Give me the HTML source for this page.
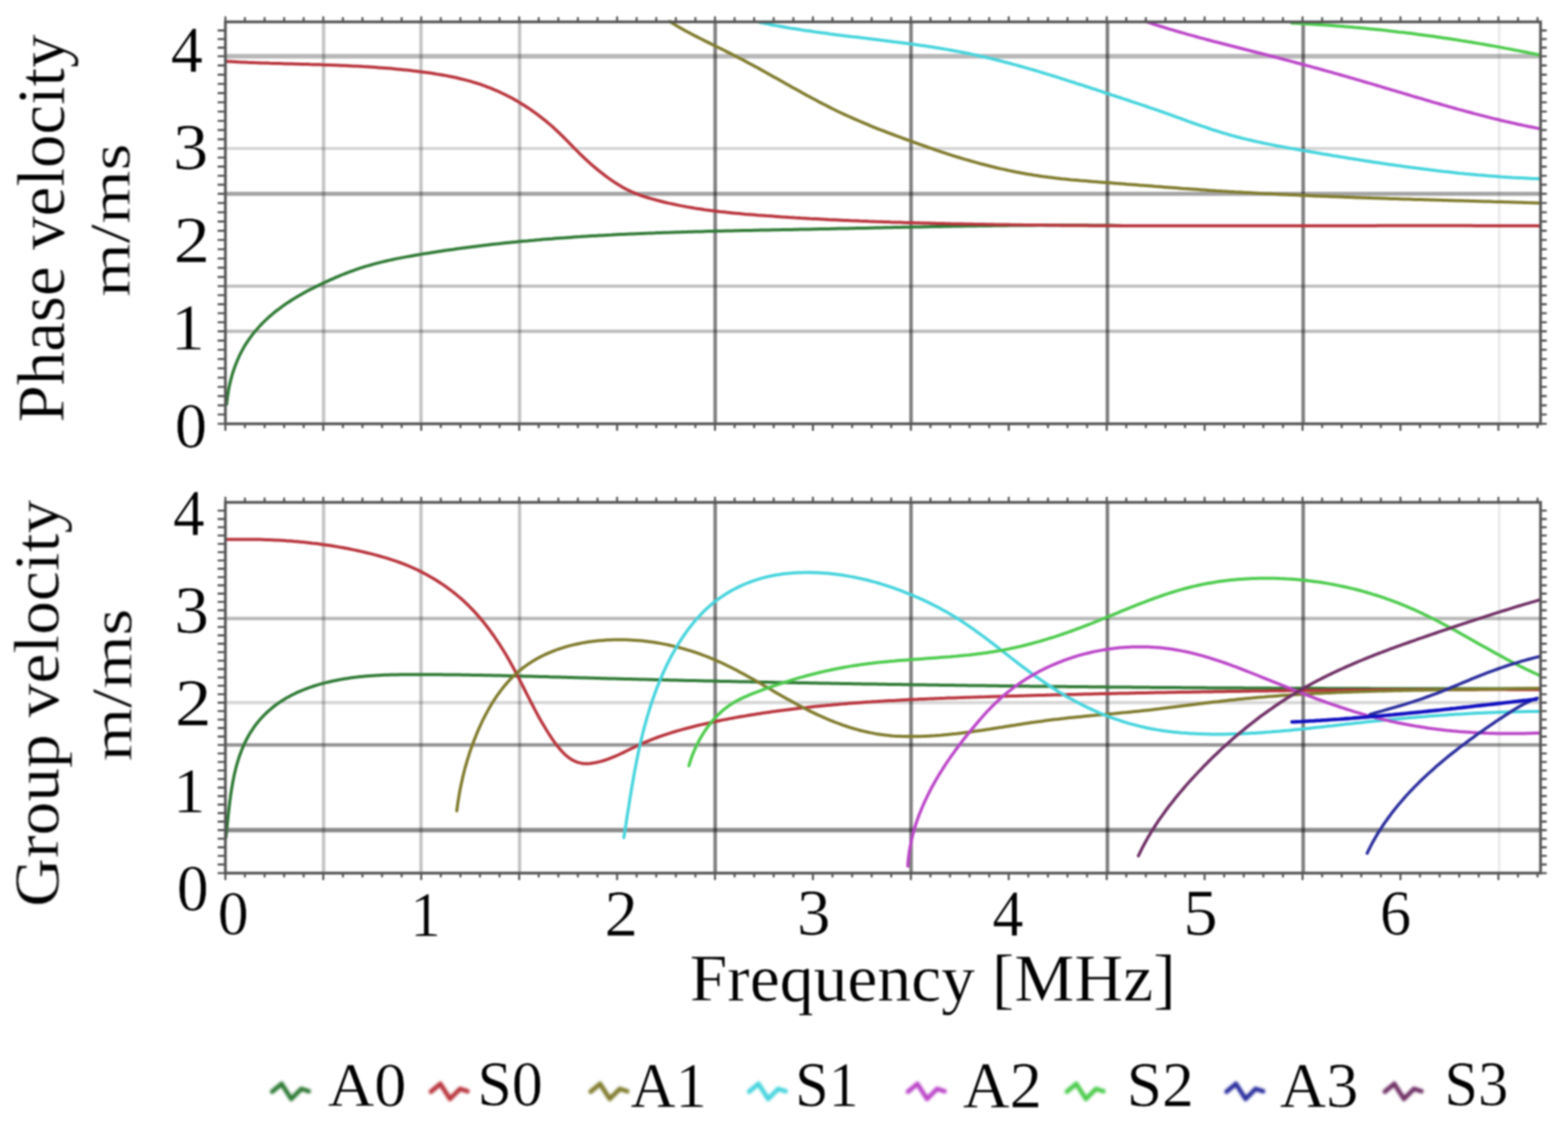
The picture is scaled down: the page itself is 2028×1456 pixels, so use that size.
<!DOCTYPE html>
<html><head><meta charset="utf-8"><title>Dispersion curves</title>
<style>html,body{margin:0;padding:0;background:#fff;}body{width:2028px;height:1456px;overflow:hidden;}svg{display:block;}</style>
</head><body>
<svg width="2028" height="1456" viewBox="0 0 2028 1456">
<defs><filter id="bl" filterUnits="userSpaceOnUse" x="0" y="0" width="2028" height="1456" color-interpolation-filters="sRGB"><feGaussianBlur stdDeviation="1.0"/></filter><filter id="bl2" x="-20%" y="-50%" width="140%" height="200%" color-interpolation-filters="sRGB"><feGaussianBlur stdDeviation="1.6"/></filter></defs>
<rect width="2028" height="1456" fill="#fff"/>
<g filter="url(#bl)">
<line x1="291.5" y1="72.7" x2="1992.5" y2="72.7" stroke="#000" stroke-opacity="0.28" stroke-width="6.0"/>
<line x1="291.5" y1="192.0" x2="1992.5" y2="192.0" stroke="#000" stroke-opacity="0.16" stroke-width="4.0"/>
<line x1="291.5" y1="250.6" x2="1992.5" y2="250.6" stroke="#000" stroke-opacity="0.36" stroke-width="5.2"/>
<line x1="291.5" y1="370.0" x2="1992.5" y2="370.0" stroke="#000" stroke-opacity="0.25" stroke-width="4.2"/>
<line x1="291.5" y1="428.4" x2="1992.5" y2="428.4" stroke="#000" stroke-opacity="0.27" stroke-width="4.2"/>
<line x1="418.5" y1="28.3" x2="418.5" y2="548.0" stroke="#000" stroke-opacity="0.23" stroke-width="4.4"/>
<line x1="544.5" y1="28.3" x2="544.5" y2="548.0" stroke="#000" stroke-opacity="0.23" stroke-width="4.4"/>
<line x1="672.0" y1="28.3" x2="672.0" y2="548.0" stroke="#000" stroke-opacity="0.23" stroke-width="4.4"/>
<line x1="925.0" y1="28.3" x2="925.0" y2="548.0" stroke="#000" stroke-opacity="0.50" stroke-width="4.6"/>
<line x1="1178.3" y1="28.3" x2="1178.3" y2="548.0" stroke="#000" stroke-opacity="0.50" stroke-width="4.6"/>
<line x1="1432.3" y1="28.3" x2="1432.3" y2="548.0" stroke="#000" stroke-opacity="0.50" stroke-width="4.6"/>
<line x1="1685.5" y1="28.3" x2="1685.5" y2="548.0" stroke="#000" stroke-opacity="0.50" stroke-width="4.6"/>
<line x1="1939.0" y1="28.3" x2="1939.0" y2="548.0" stroke="#000" stroke-opacity="0.07" stroke-width="4.0"/>
<g>
<path d="M982.8 29.0 L986.7 29.8 L990.7 30.6 L994.6 31.4 L998.5 32.2 L1002.5 32.9 L1006.4 33.6 L1010.3 34.3 L1014.3 35.0 L1018.2 35.7 L1022.2 36.4 L1026.2 37.0 L1030.1 37.6 L1034.1 38.2 L1038.0 38.9 L1042.0 39.5 L1046.0 40.0 L1050.0 40.6 L1053.9 41.2 L1057.9 41.7 L1061.9 42.3 L1065.9 42.8 L1069.9 43.3 L1073.8 43.9 L1077.8 44.4 L1081.8 44.9 L1085.8 45.4 L1089.8 45.9 L1093.8 46.4 L1097.8 46.9 L1101.8 47.4 L1105.8 47.8 L1109.8 48.3 L1113.8 48.8 L1117.8 49.3 L1121.8 49.8 L1125.8 50.2 L1129.8 50.7 L1133.7 51.2 L1137.7 51.7 L1141.7 52.2 L1145.7 52.7 L1149.7 53.2 L1153.7 53.7 L1157.7 54.2 L1161.7 54.7 L1165.7 55.2 L1169.7 55.7 L1173.7 56.3 L1177.6 56.8 L1181.6 57.3 L1185.6 57.9 L1189.6 58.5 L1193.6 59.0 L1197.5 59.6 L1201.5 60.2 L1205.5 60.8 L1209.5 61.5 L1213.4 62.1 L1217.4 62.7 L1221.3 63.4 L1225.3 64.1 L1229.2 64.8 L1233.2 65.5 L1237.1 66.2 L1241.1 66.9 L1245.0 67.7 L1249.0 68.5 L1252.9 69.3 L1256.8 70.1 L1260.7 70.9 L1264.7 71.8 L1268.6 72.7 L1272.5 73.5 L1276.4 74.5 L1280.3 75.4 L1284.2 76.3 L1288.1 77.3 L1292.0 78.3 L1295.9 79.2 L1299.8 80.3 L1303.6 81.3 L1307.5 82.3 L1311.4 83.4 L1315.3 84.4 L1319.1 85.5 L1323.0 86.6 L1326.9 87.7 L1330.7 88.8 L1334.6 89.9 L1338.4 91.0 L1342.3 92.2 L1346.1 93.3 L1350.0 94.5 L1353.8 95.7 L1357.7 96.8 L1361.5 98.0 L1365.4 99.2 L1369.2 100.4 L1373.0 101.6 L1376.9 102.9 L1380.7 104.1 L1384.5 105.3 L1388.4 106.5 L1392.2 107.8 L1396.0 109.0 L1399.8 110.2 L1403.7 111.5 L1407.5 112.7 L1411.3 114.0 L1415.1 115.2 L1419.0 116.5 L1422.8 117.7 L1426.6 119.0 L1430.4 120.3 L1434.2 121.5 L1438.0 122.8 L1441.9 124.0 L1445.7 125.3 L1449.5 126.5 L1453.3 127.8 L1457.1 129.0 L1460.9 130.3 L1464.7 131.6 L1468.5 132.8 L1472.3 134.1 L1476.1 135.4 L1479.9 136.7 L1483.7 138.0 L1487.5 139.3 L1491.3 140.6 L1495.1 141.9 L1498.9 143.2 L1502.7 144.5 L1506.5 145.9 L1510.3 147.2 L1514.1 148.6 L1517.8 149.9 L1521.6 151.3 L1525.4 152.7 L1529.2 154.0 L1532.9 155.4 L1536.7 156.8 L1540.5 158.1 L1544.3 159.5 L1548.1 160.8 L1551.9 162.1 L1555.7 163.4 L1559.5 164.7 L1563.3 166.0 L1567.1 167.3 L1570.9 168.5 L1574.7 169.7 L1578.5 170.9 L1582.4 172.1 L1586.2 173.2 L1590.1 174.3 L1593.9 175.4 L1597.8 176.5 L1601.7 177.5 L1605.5 178.5 L1609.4 179.4 L1613.3 180.4 L1617.2 181.3 L1621.1 182.2 L1625.1 183.1 L1629.0 183.9 L1632.9 184.8 L1636.8 185.6 L1640.8 186.4 L1644.7 187.1 L1648.7 187.9 L1652.6 188.7 L1656.6 189.4 L1660.5 190.1 L1664.5 190.9 L1668.4 191.6 L1672.4 192.3 L1676.3 193.0 L1680.3 193.7 L1684.3 194.4 L1688.2 195.1 L1692.2 195.8 L1696.2 196.5 L1700.1 197.1 L1704.1 197.8 L1708.0 198.5 L1712.0 199.2 L1716.0 199.8 L1719.9 200.5 L1723.9 201.2 L1727.9 201.8 L1731.8 202.5 L1735.8 203.1 L1739.8 203.8 L1743.7 204.4 L1747.7 205.1 L1751.7 205.7 L1755.7 206.3 L1759.6 207.0 L1763.6 207.6 L1767.6 208.2 L1771.5 208.8 L1775.5 209.4 L1779.5 210.0 L1783.5 210.6 L1787.4 211.2 L1791.4 211.8 L1795.4 212.4 L1799.4 213.0 L1803.3 213.5 L1807.3 214.1 L1811.3 214.6 L1815.3 215.2 L1819.2 215.7 L1823.2 216.3 L1827.2 216.8 L1831.2 217.3 L1835.2 217.8 L1839.2 218.3 L1843.1 218.8 L1847.1 219.3 L1851.1 219.8 L1855.1 220.3 L1859.1 220.8 L1863.1 221.2 L1867.1 221.7 L1871.0 222.1 L1875.0 222.6 L1879.0 223.0 L1883.0 223.4 L1887.0 223.9 L1891.0 224.3 L1895.0 224.7 L1899.0 225.0 L1903.0 225.4 L1907.0 225.8 L1911.0 226.2 L1915.0 226.5 L1919.0 226.8 L1923.0 227.2 L1927.0 227.5 L1931.0 227.8 L1935.0 228.1 L1939.0 228.4 L1943.0 228.7 L1947.0 228.9 L1951.0 229.2 L1955.1 229.5 L1959.1 229.7 L1963.1 229.9 L1967.1 230.1 L1971.1 230.3 L1975.1 230.5 L1979.1 230.7 L1983.2 230.9 L1987.2 231.0 L1991.2 231.2" stroke="#45d4dc" stroke-width="4.0" fill="none" stroke-linecap="round" stroke-linejoin="round"/>
<path d="M866.0 27.7 L869.4 29.8 L872.8 31.9 L876.3 34.0 L879.8 36.0 L883.3 38.0 L886.8 39.9 L890.3 41.8 L893.9 43.7 L897.4 45.6 L901.0 47.4 L904.6 49.2 L908.2 51.1 L911.8 52.9 L915.4 54.6 L919.0 56.4 L922.6 58.2 L926.2 60.0 L929.8 61.7 L933.4 63.5 L937.0 65.3 L940.5 67.1 L944.1 68.9 L947.7 70.7 L951.3 72.5 L954.9 74.4 L958.4 76.2 L962.0 78.1 L965.5 80.0 L969.1 81.9 L972.6 83.8 L976.2 85.7 L979.7 87.6 L983.2 89.6 L986.7 91.5 L990.2 93.5 L993.8 95.4 L997.3 97.4 L1000.8 99.4 L1004.3 101.3 L1007.8 103.3 L1011.3 105.3 L1014.8 107.3 L1018.3 109.2 L1021.8 111.2 L1025.3 113.2 L1028.8 115.1 L1032.4 117.1 L1035.9 119.0 L1039.4 121.0 L1042.9 122.9 L1046.4 124.8 L1050.0 126.7 L1053.5 128.6 L1057.1 130.5 L1060.6 132.4 L1064.2 134.2 L1067.8 136.1 L1071.3 137.9 L1074.9 139.7 L1078.5 141.5 L1082.1 143.2 L1085.7 145.0 L1089.4 146.7 L1093.0 148.4 L1096.6 150.0 L1100.3 151.7 L1104.0 153.3 L1107.6 154.9 L1111.3 156.5 L1115.0 158.1 L1118.7 159.7 L1122.4 161.2 L1126.1 162.8 L1129.8 164.3 L1133.6 165.8 L1137.3 167.3 L1141.0 168.7 L1144.8 170.2 L1148.5 171.6 L1152.3 173.0 L1156.1 174.4 L1159.8 175.8 L1163.6 177.2 L1167.4 178.6 L1171.2 180.0 L1174.9 181.4 L1178.7 182.7 L1182.5 184.1 L1186.3 185.5 L1190.1 186.8 L1193.9 188.2 L1197.7 189.5 L1201.5 190.8 L1205.3 192.2 L1209.1 193.5 L1212.9 194.8 L1216.7 196.1 L1220.5 197.3 L1224.3 198.6 L1228.2 199.8 L1232.0 201.1 L1235.8 202.3 L1239.7 203.5 L1243.5 204.6 L1247.3 205.8 L1251.2 206.9 L1255.1 208.0 L1258.9 209.1 L1262.8 210.2 L1266.7 211.3 L1270.5 212.3 L1274.4 213.3 L1278.3 214.3 L1282.2 215.3 L1286.1 216.2 L1290.0 217.2 L1293.9 218.1 L1297.8 218.9 L1301.7 219.8 L1305.6 220.6 L1309.6 221.5 L1313.5 222.3 L1317.4 223.0 L1321.4 223.8 L1325.3 224.5 L1329.3 225.2 L1333.2 225.8 L1337.2 226.5 L1341.2 227.1 L1345.1 227.7 L1349.1 228.3 L1353.1 228.8 L1357.1 229.3 L1361.1 229.8 L1365.1 230.3 L1369.1 230.7 L1373.1 231.2 L1377.1 231.6 L1381.1 232.0 L1385.1 232.4 L1389.1 232.7 L1393.1 233.1 L1397.1 233.5 L1401.1 233.8 L1405.1 234.1 L1409.2 234.4 L1413.2 234.8 L1417.2 235.1 L1421.2 235.4 L1425.2 235.7 L1429.3 236.0 L1433.3 236.3 L1437.3 236.6 L1441.3 236.9 L1445.3 237.2 L1449.3 237.5 L1453.3 237.8 L1457.3 238.2 L1461.4 238.5 L1465.4 238.8 L1469.4 239.1 L1473.4 239.4 L1477.4 239.7 L1481.4 240.0 L1485.4 240.3 L1489.4 240.6 L1493.4 241.0 L1497.4 241.3 L1501.4 241.6 L1505.4 241.9 L1509.4 242.2 L1513.5 242.5 L1517.5 242.8 L1521.5 243.1 L1525.5 243.4 L1529.5 243.7 L1533.5 243.9 L1537.5 244.2 L1541.5 244.5 L1545.5 244.8 L1549.5 245.1 L1553.5 245.4 L1557.5 245.6 L1561.5 245.9 L1565.5 246.2 L1569.5 246.4 L1573.5 246.7 L1577.5 246.9 L1581.6 247.2 L1585.6 247.4 L1589.6 247.7 L1593.6 247.9 L1597.6 248.2 L1601.6 248.4 L1605.6 248.6 L1609.6 248.9 L1613.6 249.1 L1617.6 249.3 L1621.7 249.5 L1625.7 249.7 L1629.7 250.0 L1633.7 250.2 L1637.7 250.4 L1641.7 250.6 L1645.7 250.8 L1649.7 251.0 L1653.8 251.2 L1657.8 251.4 L1661.8 251.6 L1665.8 251.8 L1669.8 251.9 L1673.8 252.1 L1677.8 252.3 L1681.9 252.5 L1685.9 252.7 L1689.9 252.8 L1693.9 253.0 L1697.9 253.2 L1701.9 253.4 L1706.0 253.5 L1710.0 253.7 L1714.0 253.8 L1718.0 254.0 L1722.0 254.2 L1726.0 254.3 L1730.1 254.5 L1734.1 254.6 L1738.1 254.8 L1742.1 254.9 L1746.1 255.1 L1750.2 255.2 L1754.2 255.4 L1758.2 255.5 L1762.2 255.7 L1766.2 255.8 L1770.2 255.9 L1774.3 256.1 L1778.3 256.2 L1782.3 256.3 L1786.3 256.5 L1790.3 256.6 L1794.4 256.7 L1798.4 256.9 L1802.4 257.0 L1806.4 257.1 L1810.4 257.2 L1814.5 257.4 L1818.5 257.5 L1822.5 257.6 L1826.5 257.7 L1830.5 257.9 L1834.5 258.0 L1838.6 258.1 L1842.6 258.2 L1846.6 258.3 L1850.6 258.5 L1854.6 258.6 L1858.7 258.7 L1862.7 258.8 L1866.7 258.9 L1870.7 259.0 L1874.7 259.2 L1878.8 259.3 L1882.8 259.4 L1886.8 259.5 L1890.8 259.6 L1894.8 259.7 L1898.8 259.8 L1902.9 260.0 L1906.9 260.1 L1910.9 260.2 L1914.9 260.3 L1918.9 260.4 L1922.9 260.5 L1927.0 260.6 L1931.0 260.8 L1935.0 260.9 L1939.0 261.0 L1943.0 261.1 L1947.0 261.2 L1951.1 261.3 L1955.1 261.5 L1959.1 261.6 L1963.1 261.7 L1967.1 261.8 L1971.1 261.9 L1975.1 262.1 L1979.2 262.2 L1983.2 262.3 L1987.2 262.4 L1991.2 262.5" stroke="#7f7b2c" stroke-width="4.0" fill="none" stroke-linecap="round" stroke-linejoin="round"/>
<path d="M1481.7 27.9 L1485.6 29.1 L1489.4 30.4 L1493.2 31.6 L1497.1 32.8 L1500.9 34.0 L1504.8 35.2 L1508.6 36.4 L1512.5 37.6 L1516.4 38.7 L1520.2 39.8 L1524.1 41.0 L1528.0 42.1 L1531.9 43.2 L1535.7 44.3 L1539.6 45.4 L1543.5 46.4 L1547.4 47.5 L1551.3 48.6 L1555.2 49.6 L1559.1 50.7 L1563.0 51.7 L1566.8 52.7 L1570.7 53.8 L1574.6 54.8 L1578.5 55.8 L1582.4 56.8 L1586.3 57.8 L1590.3 58.8 L1594.2 59.8 L1598.1 60.8 L1602.0 61.8 L1605.9 62.8 L1609.8 63.8 L1613.7 64.8 L1617.6 65.8 L1621.5 66.8 L1625.4 67.8 L1629.3 68.8 L1633.2 69.8 L1637.1 70.8 L1641.0 71.8 L1644.9 72.8 L1648.8 73.8 L1652.7 74.8 L1656.6 75.8 L1660.5 76.8 L1664.4 77.9 L1668.3 78.9 L1672.2 79.9 L1676.1 81.0 L1680.0 82.0 L1683.9 83.0 L1687.8 84.1 L1691.7 85.1 L1695.6 86.2 L1699.5 87.3 L1703.3 88.3 L1707.2 89.4 L1711.1 90.5 L1715.0 91.6 L1718.9 92.6 L1722.8 93.7 L1726.6 94.8 L1730.5 95.9 L1734.4 97.0 L1738.3 98.1 L1742.2 99.2 L1746.0 100.3 L1749.9 101.4 L1753.8 102.6 L1757.6 103.7 L1761.5 104.8 L1765.4 106.0 L1769.3 107.1 L1773.1 108.2 L1777.0 109.4 L1780.9 110.5 L1784.7 111.7 L1788.6 112.8 L1792.4 114.0 L1796.3 115.1 L1800.2 116.3 L1804.0 117.4 L1807.9 118.6 L1811.8 119.7 L1815.6 120.9 L1819.5 122.0 L1823.4 123.2 L1827.2 124.3 L1831.1 125.5 L1835.0 126.6 L1838.8 127.7 L1842.7 128.9 L1846.6 130.0 L1850.4 131.1 L1854.3 132.3 L1858.2 133.4 L1862.1 134.5 L1865.9 135.6 L1869.8 136.7 L1873.7 137.8 L1877.6 138.9 L1881.4 140.0 L1885.3 141.1 L1889.2 142.1 L1893.1 143.2 L1897.0 144.3 L1900.9 145.3 L1904.8 146.3 L1908.7 147.4 L1912.6 148.4 L1916.5 149.4 L1920.4 150.4 L1924.3 151.4 L1928.2 152.4 L1932.1 153.4 L1936.0 154.3 L1939.9 155.3 L1943.9 156.2 L1947.8 157.1 L1951.7 158.0 L1955.7 158.9 L1959.6 159.8 L1963.5 160.7 L1967.5 161.5 L1971.4 162.4 L1975.4 163.2 L1979.3 164.0 L1983.3 164.8 L1987.2 165.6 L1991.2 166.4" stroke="#bb45c8" stroke-width="4.0" fill="none" stroke-linecap="round" stroke-linejoin="round"/>
<path d="M1670.9 29.9 L1675.0 30.1 L1679.1 30.3 L1683.2 30.5 L1687.2 30.7 L1691.3 31.0 L1695.4 31.2 L1699.5 31.5 L1703.6 31.7 L1707.7 32.0 L1711.8 32.3 L1715.8 32.5 L1719.9 32.8 L1724.0 33.1 L1728.1 33.4 L1732.2 33.8 L1736.2 34.1 L1740.3 34.4 L1744.4 34.8 L1748.5 35.1 L1752.6 35.5 L1756.6 35.8 L1760.7 36.2 L1764.8 36.6 L1768.9 37.0 L1772.9 37.4 L1777.0 37.8 L1781.1 38.2 L1785.1 38.6 L1789.2 39.1 L1793.3 39.5 L1797.3 40.0 L1801.4 40.4 L1805.5 40.9 L1809.5 41.4 L1813.6 41.8 L1817.6 42.3 L1821.7 42.8 L1825.8 43.3 L1829.8 43.8 L1833.9 44.4 L1837.9 44.9 L1842.0 45.4 L1846.0 46.0 L1850.1 46.5 L1854.2 47.1 L1858.2 47.7 L1862.3 48.3 L1866.3 48.9 L1870.3 49.5 L1874.4 50.1 L1878.4 50.7 L1882.5 51.3 L1886.5 51.9 L1890.6 52.6 L1894.6 53.2 L1898.6 53.9 L1902.7 54.5 L1906.7 55.2 L1910.8 55.9 L1914.8 56.6 L1918.8 57.3 L1922.9 58.0 L1926.9 58.7 L1930.9 59.4 L1934.9 60.1 L1939.0 60.9 L1943.0 61.6 L1947.0 62.4 L1951.0 63.1 L1955.1 63.9 L1959.1 64.7 L1963.1 65.4 L1967.1 66.2 L1971.1 67.0 L1975.1 67.8 L1979.2 68.7 L1983.2 69.5 L1987.2 70.3 L1991.2 71.2" stroke="#4ccb4c" stroke-width="4.0" fill="none" stroke-linecap="round" stroke-linejoin="round"/>
<path d="M293.1 522.9 L293.5 518.8 L294.0 514.8 L294.6 510.8 L295.2 506.7 L295.9 502.7 L296.7 498.7 L297.6 494.7 L298.6 490.8 L299.7 486.8 L300.8 482.9 L302.0 479.1 L303.4 475.2 L304.8 471.4 L306.3 467.7 L307.9 464.0 L309.5 460.3 L311.3 456.7 L313.2 453.1 L315.1 449.6 L317.1 446.2 L319.3 442.8 L321.5 439.5 L323.8 436.3 L326.2 433.1 L328.6 430.0 L331.2 427.0 L333.8 424.0 L336.5 421.0 L339.3 418.2 L342.1 415.4 L345.0 412.6 L347.9 409.9 L351.0 407.3 L354.0 404.7 L357.2 402.2 L360.3 399.8 L363.6 397.4 L366.8 395.0 L370.2 392.7 L373.5 390.5 L376.9 388.3 L380.3 386.1 L383.8 384.0 L387.3 382.0 L390.8 380.0 L394.4 378.0 L397.9 376.1 L401.5 374.2 L405.2 372.4 L408.8 370.6 L412.4 368.8 L416.1 367.0 L419.8 365.3 L423.4 363.6 L427.1 361.9 L430.8 360.3 L434.5 358.7 L438.2 357.1 L442.0 355.5 L445.7 354.0 L449.5 352.6 L453.2 351.2 L457.0 349.8 L460.8 348.4 L464.6 347.1 L468.4 345.9 L472.2 344.7 L476.1 343.6 L479.9 342.5 L483.8 341.4 L487.7 340.4 L491.6 339.4 L495.5 338.4 L499.4 337.5 L503.3 336.6 L507.2 335.8 L511.1 334.9 L515.1 334.1 L519.0 333.4 L523.0 332.6 L526.9 331.9 L530.9 331.2 L534.9 330.5 L538.8 329.8 L542.8 329.1 L546.8 328.4 L550.7 327.8 L554.7 327.2 L558.7 326.5 L562.7 325.9 L566.6 325.3 L570.6 324.7 L574.6 324.1 L578.6 323.5 L582.5 322.9 L586.5 322.4 L590.5 321.8 L594.5 321.3 L598.5 320.7 L602.5 320.2 L606.4 319.7 L610.4 319.2 L614.4 318.7 L618.4 318.2 L622.4 317.7 L626.4 317.2 L630.4 316.8 L634.4 316.3 L638.3 315.8 L642.3 315.4 L646.3 315.0 L650.3 314.5 L654.3 314.1 L658.3 313.7 L662.3 313.3 L666.3 312.9 L670.3 312.5 L674.3 312.1 L678.3 311.7 L682.3 311.4 L686.3 311.0 L690.3 310.7 L694.3 310.3 L698.3 310.0 L702.3 309.6 L706.3 309.3 L710.3 309.0 L714.3 308.7 L718.3 308.3 L722.4 308.0 L726.4 307.7 L730.4 307.5 L734.4 307.2 L738.4 306.9 L742.4 306.6 L746.4 306.3 L750.4 306.1 L754.4 305.8 L758.4 305.6 L762.5 305.3 L766.5 305.1 L770.5 304.9 L774.5 304.6 L778.5 304.4 L782.5 304.2 L786.5 304.0 L790.6 303.8 L794.6 303.5 L798.6 303.3 L802.6 303.1 L806.6 303.0 L810.6 302.8 L814.7 302.6 L818.7 302.4 L822.7 302.2 L826.7 302.1 L830.7 301.9 L834.8 301.7 L838.8 301.6 L842.8 301.4 L846.8 301.3 L850.8 301.1 L854.9 301.0 L858.9 300.8 L862.9 300.7 L866.9 300.6 L871.0 300.4 L875.0 300.3 L879.0 300.2 L883.0 300.0 L887.0 299.9 L891.1 299.8 L895.1 299.7 L899.1 299.6 L903.1 299.5 L907.2 299.4 L911.2 299.2 L915.2 299.1 L919.2 299.0 L923.3 298.9 L927.3 298.8 L931.3 298.7 L935.3 298.7 L939.4 298.6 L943.4 298.5 L947.4 298.4 L951.4 298.3 L955.5 298.2 L959.5 298.1 L963.5 298.0 L967.5 298.0 L971.6 297.9 L975.6 297.8 L979.6 297.7 L983.6 297.6 L987.7 297.5 L991.7 297.5 L995.7 297.4 L999.7 297.3 L1003.8 297.2 L1007.8 297.2 L1011.8 297.1 L1015.8 297.0 L1019.9 296.9 L1023.9 296.9 L1027.9 296.8 L1031.9 296.7 L1035.9 296.6 L1040.0 296.5 L1044.0 296.5 L1048.0 296.4 L1052.0 296.3 L1056.0 296.2 L1060.1 296.1 L1064.1 296.1 L1068.1 296.0 L1072.1 295.9 L1076.2 295.8 L1080.2 295.7 L1084.2 295.6 L1088.2 295.5 L1092.2 295.5 L1096.2 295.4 L1100.3 295.3 L1104.3 295.2 L1108.3 295.1 L1112.3 295.0 L1116.3 294.9 L1120.4 294.9 L1124.4 294.8 L1128.4 294.7 L1132.4 294.6 L1136.4 294.5 L1140.4 294.4 L1144.5 294.3 L1148.5 294.3 L1152.5 294.2 L1156.5 294.1 L1160.5 294.0 L1164.5 293.9 L1168.6 293.8 L1172.6 293.8 L1176.6 293.7 L1180.6 293.6 L1184.6 293.5 L1188.6 293.4 L1192.7 293.4 L1196.7 293.3 L1200.7 293.2 L1204.7 293.1 L1208.7 293.0 L1212.7 293.0 L1216.8 292.9 L1220.8 292.8 L1224.8 292.8 L1228.8 292.7 L1232.8 292.6 L1236.8 292.5 L1240.9 292.5 L1244.9 292.4 L1248.9 292.3 L1252.9 292.3 L1256.9 292.2 L1261.0 292.2 L1265.0 292.1 L1269.0 292.1 L1273.0 292.0 L1277.0 291.9 L1281.0 291.9 L1285.1 291.8 L1289.1 291.8 L1293.1 291.7 L1297.1 291.7 L1301.1 291.7 L1305.2 291.6 L1309.2 291.6 L1313.2 291.5 L1317.2 291.5 L1321.2 291.5 L1325.2 291.4 L1329.3 291.4 L1333.3 291.4 L1337.3 291.4 L1341.3 291.3 L1345.4 291.3 L1349.4 291.3 L1353.4 291.3 L1357.4 291.3 L1361.4 291.3 L1365.5 291.3 L1369.5 291.3 L1373.5 291.3 L1377.5 291.3 L1381.6 291.3 L1385.6 291.3 L1389.6 291.3 L1393.6 291.3 L1397.7 291.3 L1401.7 291.3 L1405.7 291.3 L1409.7 291.4 L1413.8 291.4 L1417.8 291.4 L1421.8 291.5 L1425.8 291.5 L1429.9 291.5 L1433.9 291.6 L1437.9 291.6 L1442.0 291.7 L1446.0 291.7 L1450.0 291.8" stroke="#2f7a35" stroke-width="4.0" fill="none" stroke-linecap="round" stroke-linejoin="round"/>
<path d="M293.0 79.4 L297.0 79.6 L301.0 79.8 L305.0 80.0 L309.0 80.2 L313.0 80.4 L317.0 80.6 L321.0 80.8 L325.0 80.9 L329.0 81.1 L333.1 81.2 L337.1 81.4 L341.1 81.5 L345.1 81.6 L349.1 81.8 L353.1 81.9 L357.1 82.0 L361.1 82.1 L365.2 82.2 L369.2 82.4 L373.2 82.5 L377.2 82.6 L381.2 82.7 L385.2 82.8 L389.3 82.9 L393.3 83.0 L397.3 83.1 L401.3 83.3 L405.3 83.4 L409.4 83.5 L413.4 83.6 L417.4 83.8 L421.4 83.9 L425.4 84.0 L429.4 84.2 L433.5 84.3 L437.5 84.5 L441.5 84.7 L445.5 84.8 L449.5 85.0 L453.5 85.2 L457.6 85.4 L461.6 85.6 L465.6 85.8 L469.6 86.1 L473.6 86.3 L477.6 86.5 L481.6 86.8 L485.6 87.1 L489.6 87.4 L493.7 87.7 L497.7 88.0 L501.7 88.3 L505.7 88.6 L509.7 89.0 L513.7 89.4 L517.7 89.8 L521.7 90.2 L525.7 90.6 L529.7 91.0 L533.7 91.5 L537.6 91.9 L541.6 92.4 L545.6 93.0 L549.6 93.5 L553.6 94.0 L557.6 94.6 L561.5 95.2 L565.5 95.9 L569.5 96.5 L573.4 97.2 L577.4 97.9 L581.3 98.7 L585.3 99.5 L589.2 100.3 L593.1 101.2 L597.0 102.2 L600.9 103.1 L604.7 104.1 L608.6 105.2 L612.4 106.3 L616.3 107.5 L620.1 108.7 L623.9 110.0 L627.6 111.4 L631.4 112.8 L635.1 114.2 L638.8 115.8 L642.5 117.3 L646.2 119.0 L649.8 120.7 L653.4 122.4 L657.0 124.3 L660.6 126.1 L664.1 128.1 L667.6 130.0 L671.1 132.1 L674.6 134.2 L678.0 136.3 L681.4 138.5 L684.7 140.7 L688.1 143.0 L691.4 145.3 L694.6 147.7 L697.8 150.1 L701.0 152.6 L704.2 155.1 L707.3 157.6 L710.4 160.2 L713.4 162.8 L716.4 165.5 L719.3 168.2 L722.3 171.0 L725.1 173.7 L728.0 176.5 L730.8 179.4 L733.6 182.2 L736.4 185.1 L739.2 187.9 L742.0 190.8 L744.8 193.6 L747.6 196.4 L750.4 199.3 L753.3 202.0 L756.2 204.8 L759.2 207.5 L762.1 210.2 L765.2 212.9 L768.2 215.5 L771.3 218.1 L774.4 220.6 L777.6 223.2 L780.8 225.6 L784.0 228.1 L787.3 230.5 L790.6 232.8 L793.9 235.1 L797.3 237.3 L800.7 239.4 L804.2 241.5 L807.7 243.4 L811.3 245.3 L814.9 247.0 L818.5 248.7 L822.2 250.2 L825.9 251.7 L829.7 253.0 L833.5 254.3 L837.3 255.5 L841.1 256.6 L845.0 257.7 L848.8 258.7 L852.7 259.7 L856.5 260.7 L860.4 261.7 L864.3 262.6 L868.2 263.4 L872.1 264.3 L876.0 265.1 L879.9 265.9 L883.9 266.6 L887.8 267.4 L891.7 268.1 L895.7 268.7 L899.6 269.4 L903.6 270.0 L907.6 270.6 L911.5 271.2 L915.5 271.7 L919.5 272.2 L923.5 272.7 L927.5 273.2 L931.4 273.7 L935.4 274.1 L939.4 274.6 L943.4 275.0 L947.4 275.4 L951.4 275.8 L955.5 276.1 L959.5 276.5 L963.5 276.9 L967.5 277.2 L971.5 277.5 L975.5 277.8 L979.5 278.2 L983.6 278.5 L987.6 278.8 L991.6 279.1 L995.6 279.3 L999.6 279.6 L1003.6 279.9 L1007.7 280.2 L1011.7 280.5 L1015.7 280.7 L1019.7 281.0 L1023.7 281.2 L1027.7 281.5 L1031.7 281.7 L1035.8 282.0 L1039.8 282.2 L1043.8 282.4 L1047.8 282.7 L1051.8 282.9 L1055.8 283.1 L1059.8 283.3 L1063.9 283.5 L1067.9 283.7 L1071.9 284.0 L1075.9 284.2 L1079.9 284.3 L1083.9 284.5 L1087.9 284.7 L1091.9 284.9 L1096.0 285.1 L1100.0 285.3 L1104.0 285.4 L1108.0 285.6 L1112.0 285.8 L1116.0 285.9 L1120.0 286.1 L1124.0 286.3 L1128.0 286.4 L1132.1 286.6 L1136.1 286.7 L1140.1 286.8 L1144.1 287.0 L1148.1 287.1 L1152.1 287.3 L1156.1 287.4 L1160.1 287.5 L1164.1 287.6 L1168.2 287.8 L1172.2 287.9 L1176.2 288.0 L1180.2 288.1 L1184.2 288.2 L1188.2 288.3 L1192.2 288.4 L1196.2 288.5 L1200.2 288.6 L1204.3 288.7 L1208.3 288.8 L1212.3 288.9 L1216.3 289.0 L1220.3 289.1 L1224.3 289.2 L1228.3 289.3 L1232.3 289.4 L1236.3 289.5 L1240.4 289.5 L1244.4 289.6 L1248.4 289.7 L1252.4 289.8 L1256.4 289.8 L1260.4 289.9 L1264.4 290.0 L1268.4 290.0 L1272.4 290.1 L1276.5 290.2 L1280.5 290.2 L1284.5 290.3 L1288.5 290.4 L1292.5 290.4 L1296.5 290.5 L1300.5 290.5 L1304.5 290.6 L1308.6 290.7 L1312.6 290.7 L1316.6 290.8 L1320.6 290.8 L1324.6 290.9 L1328.6 290.9 L1332.6 291.0 L1336.6 291.0 L1340.7 291.0 L1344.7 291.1 L1348.7 291.1 L1352.7 291.2 L1356.7 291.2 L1360.7 291.3 L1364.7 291.3 L1368.8 291.3 L1372.8 291.4 L1376.8 291.4 L1380.8 291.4 L1384.8 291.5 L1388.8 291.5 L1392.8 291.5 L1396.9 291.6 L1400.9 291.6 L1404.9 291.6 L1408.9 291.7 L1412.9 291.7 L1416.9 291.7 L1420.9 291.7 L1425.0 291.8 L1429.0 291.8 L1433.0 291.8 L1437.0 291.8 L1441.0 291.8 L1445.0 291.9 L1449.1 291.9 L1453.1 291.9 L1457.1 291.9 L1461.1 291.9 L1465.1 291.9 L1469.1 292.0 L1473.1 292.0 L1477.2 292.0 L1481.2 292.0 L1485.2 292.0 L1489.2 292.0 L1493.2 292.0 L1497.2 292.1 L1501.3 292.1 L1505.3 292.1 L1509.3 292.1 L1513.3 292.1 L1517.3 292.1 L1521.3 292.1 L1525.4 292.1 L1529.4 292.1 L1533.4 292.1 L1537.4 292.1 L1541.4 292.1 L1545.4 292.1 L1549.5 292.1 L1553.5 292.1 L1557.5 292.1 L1561.5 292.1 L1565.5 292.1 L1569.5 292.1 L1573.6 292.1 L1577.6 292.1 L1581.6 292.1 L1585.6 292.1 L1589.6 292.1 L1593.6 292.1 L1597.7 292.1 L1601.7 292.1 L1605.7 292.1 L1609.7 292.1 L1613.7 292.1 L1617.7 292.1 L1621.8 292.1 L1625.8 292.1 L1629.8 292.1 L1633.8 292.1 L1637.8 292.1 L1641.8 292.1 L1645.9 292.1 L1649.9 292.1 L1653.9 292.1 L1657.9 292.1 L1661.9 292.1 L1665.9 292.0 L1670.0 292.0 L1674.0 292.0 L1678.0 292.0 L1682.0 292.0 L1686.0 292.0 L1690.0 292.0 L1694.1 292.0 L1698.1 292.0 L1702.1 292.0 L1706.1 292.0 L1710.1 292.0 L1714.2 292.0 L1718.2 292.0 L1722.2 291.9 L1726.2 291.9 L1730.2 291.9 L1734.2 291.9 L1738.3 291.9 L1742.3 291.9 L1746.3 291.9 L1750.3 291.9 L1754.3 291.9 L1758.3 291.9 L1762.3 291.9 L1766.4 291.9 L1770.4 291.9 L1774.4 291.9 L1778.4 291.9 L1782.4 291.8 L1786.4 291.8 L1790.5 291.8 L1794.5 291.8 L1798.5 291.8 L1802.5 291.8 L1806.5 291.8 L1810.5 291.8 L1814.6 291.8 L1818.6 291.8 L1822.6 291.8 L1826.6 291.8 L1830.6 291.8 L1834.6 291.8 L1838.6 291.8 L1842.7 291.8 L1846.7 291.8 L1850.7 291.8 L1854.7 291.8 L1858.7 291.8 L1862.7 291.8 L1866.8 291.8 L1870.8 291.8 L1874.8 291.8 L1878.8 291.8 L1882.8 291.8 L1886.8 291.8 L1890.8 291.8 L1894.9 291.8 L1898.9 291.8 L1902.9 291.8 L1906.9 291.9 L1910.9 291.9 L1914.9 291.9 L1918.9 291.9 L1923.0 291.9 L1927.0 291.9 L1931.0 291.9 L1935.0 291.9 L1939.0 291.9 L1943.0 291.9 L1947.0 292.0 L1951.0 292.0 L1955.1 292.0 L1959.1 292.0 L1963.1 292.0 L1967.1 292.0 L1971.1 292.1 L1975.1 292.1 L1979.1 292.1 L1983.1 292.1 L1987.2 292.1 L1991.2 292.2" stroke="#b8343c" stroke-width="4.0" fill="none" stroke-linecap="round" stroke-linejoin="round"/>
</g>
<path d="M291.5 28.3 V21.3 M291.5 548.0 V557.0 M316.8 28.3 V22.3 M316.8 548.0 V553.5 M342.2 28.3 V22.3 M342.2 548.0 V553.5 M367.5 28.3 V22.3 M367.5 548.0 V553.5 M392.8 28.3 V22.3 M392.8 548.0 V553.5 M418.1 28.3 V21.3 M418.1 548.0 V557.0 M443.5 28.3 V22.3 M443.5 548.0 V553.5 M468.8 28.3 V22.3 M468.8 548.0 V553.5 M494.1 28.3 V22.3 M494.1 548.0 V553.5 M519.5 28.3 V22.3 M519.5 548.0 V553.5 M544.8 28.3 V21.3 M544.8 548.0 V557.0 M570.1 28.3 V22.3 M570.1 548.0 V553.5 M595.5 28.3 V22.3 M595.5 548.0 V553.5 M620.8 28.3 V22.3 M620.8 548.0 V553.5 M646.1 28.3 V22.3 M646.1 548.0 V553.5 M671.5 28.3 V21.3 M671.5 548.0 V557.0 M696.8 28.3 V22.3 M696.8 548.0 V553.5 M722.1 28.3 V22.3 M722.1 548.0 V553.5 M747.4 28.3 V22.3 M747.4 548.0 V553.5 M772.8 28.3 V22.3 M772.8 548.0 V553.5 M798.1 28.3 V21.3 M798.1 548.0 V557.0 M823.4 28.3 V22.3 M823.4 548.0 V553.5 M848.8 28.3 V22.3 M848.8 548.0 V553.5 M874.1 28.3 V22.3 M874.1 548.0 V553.5 M899.4 28.3 V22.3 M899.4 548.0 V553.5 M924.8 28.3 V21.3 M924.8 548.0 V557.0 M950.1 28.3 V22.3 M950.1 548.0 V553.5 M975.4 28.3 V22.3 M975.4 548.0 V553.5 M1000.7 28.3 V22.3 M1000.7 548.0 V553.5 M1026.1 28.3 V22.3 M1026.1 548.0 V553.5 M1051.4 28.3 V21.3 M1051.4 548.0 V557.0 M1076.7 28.3 V22.3 M1076.7 548.0 V553.5 M1102.1 28.3 V22.3 M1102.1 548.0 V553.5 M1127.4 28.3 V22.3 M1127.4 548.0 V553.5 M1152.7 28.3 V22.3 M1152.7 548.0 V553.5 M1178.1 28.3 V21.3 M1178.1 548.0 V557.0 M1203.4 28.3 V22.3 M1203.4 548.0 V553.5 M1228.7 28.3 V22.3 M1228.7 548.0 V553.5 M1254.0 28.3 V22.3 M1254.0 548.0 V553.5 M1279.4 28.3 V22.3 M1279.4 548.0 V553.5 M1304.7 28.3 V21.3 M1304.7 548.0 V557.0 M1330.0 28.3 V22.3 M1330.0 548.0 V553.5 M1355.4 28.3 V22.3 M1355.4 548.0 V553.5 M1380.7 28.3 V22.3 M1380.7 548.0 V553.5 M1406.0 28.3 V22.3 M1406.0 548.0 V553.5 M1431.4 28.3 V21.3 M1431.4 548.0 V557.0 M1456.7 28.3 V22.3 M1456.7 548.0 V553.5 M1482.0 28.3 V22.3 M1482.0 548.0 V553.5 M1507.3 28.3 V22.3 M1507.3 548.0 V553.5 M1532.7 28.3 V22.3 M1532.7 548.0 V553.5 M1558.0 28.3 V21.3 M1558.0 548.0 V557.0 M1583.3 28.3 V22.3 M1583.3 548.0 V553.5 M1608.7 28.3 V22.3 M1608.7 548.0 V553.5 M1634.0 28.3 V22.3 M1634.0 548.0 V553.5 M1659.3 28.3 V22.3 M1659.3 548.0 V553.5 M1684.7 28.3 V21.3 M1684.7 548.0 V557.0 M1710.0 28.3 V22.3 M1710.0 548.0 V553.5 M1735.3 28.3 V22.3 M1735.3 548.0 V553.5 M1760.6 28.3 V22.3 M1760.6 548.0 V553.5 M1786.0 28.3 V22.3 M1786.0 548.0 V553.5 M1811.3 28.3 V21.3 M1811.3 548.0 V557.0 M1836.6 28.3 V22.3 M1836.6 548.0 V553.5 M1862.0 28.3 V22.3 M1862.0 548.0 V553.5 M1887.3 28.3 V22.3 M1887.3 548.0 V553.5 M1912.6 28.3 V22.3 M1912.6 548.0 V553.5 M1938.0 28.3 V21.3 M1938.0 548.0 V557.0 M1963.3 28.3 V22.3 M1963.3 548.0 V553.5 M1988.6 28.3 V22.3 M1988.6 548.0 V553.5 M291.5 548.0 H281.5 M1992.5 548.0 H2000.5 M291.5 536.0 H281.5 M1992.5 536.0 H2000.5 M291.5 524.1 H281.5 M1992.5 524.1 H2000.5 M291.5 512.1 H281.5 M1992.5 512.1 H2000.5 M291.5 500.2 H281.5 M1992.5 500.2 H2000.5 M291.5 488.2 H281.5 M1992.5 488.2 H2000.5 M291.5 476.2 H281.5 M1992.5 476.2 H2000.5 M291.5 464.3 H281.5 M1992.5 464.3 H2000.5 M291.5 452.3 H281.5 M1992.5 452.3 H2000.5 M291.5 440.4 H281.5 M1992.5 440.4 H2000.5 M291.5 428.4 H281.5 M1992.5 428.4 H2000.5 M291.5 416.7 H281.5 M1992.5 416.7 H2000.5 M291.5 405.0 H281.5 M1992.5 405.0 H2000.5 M291.5 393.4 H281.5 M1992.5 393.4 H2000.5 M291.5 381.7 H281.5 M1992.5 381.7 H2000.5 M291.5 370.0 H281.5 M1992.5 370.0 H2000.5 M291.5 358.1 H281.5 M1992.5 358.1 H2000.5 M291.5 346.1 H281.5 M1992.5 346.1 H2000.5 M291.5 334.2 H281.5 M1992.5 334.2 H2000.5 M291.5 322.2 H281.5 M1992.5 322.2 H2000.5 M291.5 310.3 H281.5 M1992.5 310.3 H2000.5 M291.5 298.4 H281.5 M1992.5 298.4 H2000.5 M291.5 286.4 H281.5 M1992.5 286.4 H2000.5 M291.5 274.5 H281.5 M1992.5 274.5 H2000.5 M291.5 262.5 H281.5 M1992.5 262.5 H2000.5 M291.5 250.6 H281.5 M1992.5 250.6 H2000.5 M291.5 238.9 H281.5 M1992.5 238.9 H2000.5 M291.5 227.2 H281.5 M1992.5 227.2 H2000.5 M291.5 215.4 H281.5 M1992.5 215.4 H2000.5 M291.5 203.7 H281.5 M1992.5 203.7 H2000.5 M291.5 192.0 H281.5 M1992.5 192.0 H2000.5 M291.5 180.1 H281.5 M1992.5 180.1 H2000.5 M291.5 168.1 H281.5 M1992.5 168.1 H2000.5 M291.5 156.2 H281.5 M1992.5 156.2 H2000.5 M291.5 144.3 H281.5 M1992.5 144.3 H2000.5 M291.5 132.3 H281.5 M1992.5 132.3 H2000.5 M291.5 120.4 H281.5 M1992.5 120.4 H2000.5 M291.5 108.5 H281.5 M1992.5 108.5 H2000.5 M291.5 96.6 H281.5 M1992.5 96.6 H2000.5 M291.5 84.6 H281.5 M1992.5 84.6 H2000.5 M291.5 72.7 H281.5 M1992.5 72.7 H2000.5 M291.5 61.6 H281.5 M1992.5 61.6 H2000.5 M291.5 50.5 H281.5 M1992.5 50.5 H2000.5 M291.5 39.4 H281.5 M1992.5 39.4 H2000.5" stroke="#505050" stroke-width="2.6" fill="none"/>
<rect x="291.5" y="28.3" width="1701.0" height="519.7" fill="none" stroke="#555" stroke-width="3.6"/>
<line x1="291.5" y1="799.8" x2="1992.5" y2="799.8" stroke="#000" stroke-opacity="0.28" stroke-width="4.4"/>
<line x1="291.5" y1="908.6" x2="1992.5" y2="908.6" stroke="#000" stroke-opacity="0.17" stroke-width="4.0"/>
<line x1="291.5" y1="963.3" x2="1992.5" y2="963.3" stroke="#000" stroke-opacity="0.42" stroke-width="4.6"/>
<line x1="291.5" y1="1073.4" x2="1992.5" y2="1073.4" stroke="#000" stroke-opacity="0.46" stroke-width="5.6"/>
<line x1="418.5" y1="649.6" x2="418.5" y2="1129.0" stroke="#000" stroke-opacity="0.23" stroke-width="4.4"/>
<line x1="544.5" y1="649.6" x2="544.5" y2="1129.0" stroke="#000" stroke-opacity="0.23" stroke-width="4.4"/>
<line x1="672.0" y1="649.6" x2="672.0" y2="1129.0" stroke="#000" stroke-opacity="0.23" stroke-width="4.4"/>
<line x1="925.0" y1="649.6" x2="925.0" y2="1129.0" stroke="#000" stroke-opacity="0.50" stroke-width="4.6"/>
<line x1="1178.3" y1="649.6" x2="1178.3" y2="1129.0" stroke="#000" stroke-opacity="0.50" stroke-width="4.6"/>
<line x1="1432.3" y1="649.6" x2="1432.3" y2="1129.0" stroke="#000" stroke-opacity="0.50" stroke-width="4.6"/>
<line x1="1685.5" y1="649.6" x2="1685.5" y2="1129.0" stroke="#000" stroke-opacity="0.50" stroke-width="4.6"/>
<line x1="1939.0" y1="649.6" x2="1939.0" y2="1129.0" stroke="#000" stroke-opacity="0.07" stroke-width="4.0"/>
<g>
<path d="M292.2 1083.0 L292.6 1079.3 L293.0 1075.5 L293.4 1071.7 L293.8 1067.9 L294.2 1064.0 L294.6 1060.1 L295.0 1056.1 L295.4 1052.1 L295.9 1048.1 L296.3 1044.0 L296.8 1040.0 L297.3 1035.9 L297.9 1031.8 L298.4 1027.7 L299.0 1023.6 L299.7 1019.5 L300.4 1015.4 L301.1 1011.3 L301.9 1007.3 L302.7 1003.2 L303.6 999.2 L304.6 995.1 L305.6 991.1 L306.7 987.2 L307.9 983.3 L309.1 979.4 L310.5 975.5 L311.9 971.7 L313.4 967.9 L315.0 964.2 L316.6 960.6 L318.4 957.0 L320.3 953.5 L322.2 950.0 L324.3 946.6 L326.5 943.3 L328.7 940.0 L331.1 936.8 L333.5 933.7 L336.0 930.7 L338.7 927.8 L341.4 924.9 L344.2 922.2 L347.1 919.5 L350.1 916.9 L353.1 914.4 L356.3 911.9 L359.5 909.6 L362.7 907.4 L366.1 905.2 L369.5 903.1 L373.0 901.2 L376.5 899.3 L380.1 897.5 L383.7 895.7 L387.4 894.1 L391.1 892.5 L394.8 891.1 L398.6 889.6 L402.4 888.3 L406.3 887.0 L410.1 885.8 L414.0 884.7 L417.9 883.6 L421.8 882.6 L425.7 881.7 L429.7 880.8 L433.6 880.0 L437.5 879.2 L441.5 878.4 L445.5 877.8 L449.4 877.2 L453.4 876.6 L457.4 876.0 L461.4 875.6 L465.4 875.1 L469.4 874.7 L473.4 874.3 L477.4 874.0 L481.5 873.7 L485.5 873.4 L489.5 873.2 L493.5 873.0 L497.6 872.8 L501.6 872.7 L505.7 872.6 L509.7 872.5 L513.8 872.4 L517.8 872.3 L521.9 872.3 L525.9 872.2 L530.0 872.2 L534.0 872.2 L538.1 872.2 L542.1 872.2 L546.2 872.2 L550.2 872.2 L554.3 872.2 L558.3 872.3 L562.3 872.3 L566.4 872.3 L570.4 872.3 L574.4 872.4 L578.5 872.4 L582.5 872.5 L586.5 872.5 L590.6 872.6 L594.6 872.6 L598.6 872.7 L602.6 872.7 L606.7 872.8 L610.7 872.9 L614.7 872.9 L618.7 873.0 L622.7 873.1 L626.8 873.2 L630.8 873.3 L634.8 873.3 L638.8 873.4 L642.8 873.5 L646.8 873.6 L650.8 873.7 L654.8 873.8 L658.9 873.9 L662.9 874.0 L666.9 874.1 L670.9 874.2 L674.9 874.3 L678.9 874.4 L682.9 874.5 L686.9 874.6 L690.9 874.7 L694.9 874.8 L698.9 874.9 L702.9 875.0 L706.9 875.1 L710.9 875.3 L714.9 875.4 L718.9 875.5 L722.9 875.6 L726.9 875.7 L731.0 875.8 L735.0 875.9 L739.0 876.0 L743.0 876.2 L747.0 876.3 L751.0 876.4 L755.0 876.5 L759.0 876.6 L763.0 876.7 L767.0 876.8 L771.0 876.9 L775.0 877.0 L779.0 877.2 L783.0 877.3 L787.0 877.4 L791.0 877.5 L795.0 877.6 L799.0 877.7 L803.0 877.8 L807.1 877.9 L811.1 878.0 L815.1 878.1 L819.1 878.2 L823.1 878.3 L827.1 878.4 L831.1 878.5 L835.1 878.6 L839.1 878.7 L843.1 878.8 L847.2 878.9 L851.2 879.0 L855.2 879.1 L859.2 879.2 L863.2 879.3 L867.2 879.4 L871.2 879.5 L875.2 879.6 L879.3 879.7 L883.3 879.8 L887.3 879.9 L891.3 880.0 L895.3 880.1 L899.3 880.1 L903.3 880.2 L907.4 880.3 L911.4 880.4 L915.4 880.5 L919.4 880.6 L923.4 880.7 L927.4 880.8 L931.5 880.9 L935.5 881.0 L939.5 881.0 L943.5 881.1 L947.5 881.2 L951.5 881.3 L955.6 881.4 L959.6 881.5 L963.6 881.5 L967.6 881.6 L971.6 881.7 L975.6 881.8 L979.7 881.9 L983.7 882.0 L987.7 882.0 L991.7 882.1 L995.7 882.2 L999.7 882.3 L1003.8 882.4 L1007.8 882.4 L1011.8 882.5 L1015.8 882.6 L1019.8 882.7 L1023.9 882.7 L1027.9 882.8 L1031.9 882.9 L1035.9 883.0 L1039.9 883.0 L1044.0 883.1 L1048.0 883.2 L1052.0 883.3 L1056.0 883.3 L1060.0 883.4 L1064.1 883.5 L1068.1 883.6 L1072.1 883.6 L1076.1 883.7 L1080.1 883.8 L1084.2 883.8 L1088.2 883.9 L1092.2 884.0 L1096.2 884.0 L1100.2 884.1 L1104.2 884.2 L1108.3 884.2 L1112.3 884.3 L1116.3 884.4 L1120.3 884.4 L1124.3 884.5 L1128.4 884.6 L1132.4 884.6 L1136.4 884.7 L1140.4 884.8 L1144.4 884.8 L1148.5 884.9 L1152.5 885.0 L1156.5 885.0 L1160.5 885.1 L1164.5 885.1 L1168.6 885.2 L1172.6 885.3 L1176.6 885.3 L1180.6 885.4 L1184.6 885.4 L1188.7 885.5 L1192.7 885.6 L1196.7 885.6 L1200.7 885.7 L1204.7 885.7 L1208.7 885.8 L1212.8 885.8 L1216.8 885.9 L1220.8 886.0 L1224.8 886.0 L1228.8 886.1 L1232.9 886.1 L1236.9 886.2 L1240.9 886.2 L1244.9 886.3 L1248.9 886.3 L1252.9 886.4 L1257.0 886.4 L1261.0 886.5 L1265.0 886.5 L1269.0 886.6 L1273.0 886.6 L1277.0 886.7 L1281.1 886.7 L1285.1 886.8 L1289.1 886.8 L1293.1 886.9 L1297.1 886.9 L1301.2 887.0 L1305.2 887.0 L1309.2 887.1 L1313.2 887.1 L1317.2 887.2 L1321.2 887.2 L1325.3 887.3 L1329.3 887.3 L1333.3 887.4 L1337.3 887.4 L1341.3 887.4 L1345.3 887.5 L1349.3 887.5 L1353.4 887.6 L1357.4 887.6 L1361.4 887.7 L1365.4 887.7 L1369.4 887.8 L1373.4 887.8 L1377.5 887.8 L1381.5 887.9 L1385.5 887.9 L1389.5 888.0 L1393.5 888.0 L1397.5 888.0 L1401.6 888.1 L1405.6 888.1 L1409.6 888.2 L1413.6 888.2 L1417.6 888.2 L1421.6 888.3 L1425.7 888.3 L1429.7 888.3 L1433.7 888.4 L1437.7 888.4 L1441.7 888.4 L1445.7 888.5 L1449.7 888.5 L1453.8 888.6 L1457.8 888.6 L1461.8 888.6 L1465.8 888.7 L1469.8 888.7 L1473.8 888.7 L1477.9 888.8 L1481.9 888.8 L1485.9 888.8 L1489.9 888.9 L1493.9 888.9 L1497.9 888.9 L1501.9 888.9 L1506.0 889.0 L1510.0 889.0 L1514.0 889.0 L1518.0 889.1 L1522.0 889.1 L1526.0 889.1 L1530.0 889.2 L1534.1 889.2 L1538.1 889.2 L1542.1 889.2 L1546.1 889.3 L1550.1 889.3 L1554.1 889.3 L1558.2 889.3 L1562.2 889.4 L1566.2 889.4 L1570.2 889.4 L1574.2 889.5 L1578.2 889.5 L1582.2 889.5 L1586.3 889.5 L1590.3 889.6 L1594.3 889.6 L1598.3 889.6 L1602.3 889.6 L1606.3 889.6 L1610.4 889.7 L1614.4 889.7 L1618.4 889.7 L1622.4 889.7 L1626.4 889.8 L1630.4 889.8 L1634.4 889.8 L1638.5 889.8 L1642.5 889.8 L1646.5 889.9 L1650.5 889.9 L1654.5 889.9 L1658.5 889.9 L1662.6 889.9 L1666.6 890.0 L1670.6 890.0 L1674.6 890.0 L1678.6 890.0 L1682.6 890.0 L1686.6 890.0 L1690.7 890.1 L1694.7 890.1 L1698.7 890.1 L1702.7 890.1 L1706.7 890.1 L1710.7 890.1 L1714.8 890.2 L1718.8 890.2 L1722.8 890.2 L1726.8 890.2 L1730.8 890.2 L1734.8 890.2 L1738.9 890.2 L1742.9 890.3 L1746.9 890.3 L1750.9 890.3 L1754.9 890.3 L1758.9 890.3 L1763.0 890.3 L1767.0 890.3 L1771.0 890.3 L1775.0 890.4 L1779.0 890.4 L1783.0 890.4 L1787.1 890.4 L1791.1 890.4 L1795.1 890.4 L1799.1 890.4 L1803.1 890.4 L1807.1 890.4 L1811.2 890.4 L1815.2 890.5 L1819.2 890.5 L1823.2 890.5 L1827.2 890.5 L1831.2 890.5 L1835.3 890.5 L1839.3 890.5 L1843.3 890.5 L1847.3 890.5 L1851.3 890.5 L1855.4 890.5 L1859.4 890.5 L1863.4 890.5 L1867.4 890.5 L1871.4 890.5 L1875.4 890.6 L1879.5 890.6 L1883.5 890.6 L1887.5 890.6 L1891.5 890.6 L1895.5 890.6 L1899.6 890.6 L1903.6 890.6 L1907.6 890.6 L1911.6 890.6 L1915.6 890.6 L1919.7 890.6 L1923.7 890.6 L1927.7 890.6 L1931.7 890.6 L1935.7 890.6 L1939.7 890.6 L1943.8 890.6 L1947.8 890.6 L1951.8 890.6 L1955.8 890.6 L1959.8 890.6 L1963.9 890.6 L1967.9 890.6 L1971.9 890.6 L1975.9 890.6 L1980.0 890.6 L1984.0 890.6 L1988.0 890.6 L1992.0 890.6" stroke="#2f7a35" stroke-width="4.0" fill="none" stroke-linecap="round" stroke-linejoin="round"/>
<path d="M292.0 697.6 L296.0 697.5 L300.0 697.5 L304.0 697.4 L308.0 697.4 L312.0 697.4 L316.0 697.4 L320.0 697.4 L324.0 697.4 L328.0 697.5 L332.0 697.5 L336.0 697.6 L340.1 697.7 L344.1 697.9 L348.1 698.0 L352.1 698.2 L356.1 698.4 L360.1 698.6 L364.1 698.8 L368.1 699.1 L372.1 699.4 L376.1 699.6 L380.1 700.0 L384.1 700.3 L388.1 700.7 L392.1 701.1 L396.1 701.5 L400.1 701.9 L404.1 702.4 L408.1 702.8 L412.1 703.3 L416.1 703.9 L420.0 704.4 L424.0 705.0 L428.0 705.6 L431.9 706.2 L435.9 706.9 L439.8 707.6 L443.8 708.3 L447.7 709.0 L451.7 709.8 L455.6 710.6 L459.5 711.4 L463.4 712.2 L467.4 713.1 L471.3 714.0 L475.2 715.0 L479.1 715.9 L482.9 716.9 L486.8 717.9 L490.7 719.0 L494.5 720.1 L498.4 721.2 L502.2 722.4 L506.0 723.6 L509.9 724.8 L513.6 726.1 L517.4 727.5 L521.2 728.9 L524.9 730.4 L528.6 731.9 L532.3 733.5 L535.9 735.1 L539.6 736.8 L543.2 738.6 L546.8 740.4 L550.3 742.3 L553.8 744.2 L557.3 746.2 L560.8 748.2 L564.2 750.3 L567.6 752.5 L570.9 754.7 L574.3 756.9 L577.5 759.2 L580.8 761.6 L584.0 764.0 L587.1 766.4 L590.3 769.0 L593.3 771.5 L596.4 774.1 L599.4 776.8 L602.3 779.5 L605.2 782.3 L608.0 785.1 L610.8 788.0 L613.6 790.9 L616.3 793.9 L618.9 796.9 L621.5 799.9 L624.1 803.0 L626.6 806.1 L629.1 809.3 L631.6 812.5 L634.0 815.7 L636.3 819.0 L638.7 822.2 L640.9 825.5 L643.2 828.9 L645.4 832.2 L647.6 835.6 L649.7 839.0 L651.9 842.4 L653.9 845.8 L656.0 849.3 L658.0 852.8 L659.9 856.2 L661.9 859.7 L663.8 863.2 L665.7 866.7 L667.5 870.3 L669.4 873.8 L671.2 877.3 L673.0 880.9 L674.8 884.4 L676.6 888.0 L678.4 891.5 L680.2 895.1 L682.0 898.6 L683.8 902.2 L685.6 905.7 L687.4 909.3 L689.3 912.8 L691.1 916.4 L693.0 919.9 L694.9 923.5 L696.8 927.0 L698.8 930.5 L700.8 934.0 L702.9 937.5 L705.0 941.0 L707.1 944.5 L709.3 948.0 L711.5 951.4 L713.8 954.9 L716.2 958.3 L718.6 961.6 L721.1 964.9 L723.7 968.1 L726.4 971.2 L729.2 974.1 L732.0 976.7 L735.0 979.2 L738.1 981.4 L741.4 983.3 L744.8 984.9 L748.3 986.1 L752.0 986.9 L755.8 987.4 L759.7 987.4 L763.8 987.2 L767.8 986.6 L771.9 985.8 L775.9 984.9 L779.9 983.8 L783.8 982.5 L787.6 981.2 L791.4 979.7 L795.2 978.1 L798.9 976.5 L802.6 974.8 L806.2 973.1 L809.9 971.3 L813.5 969.5 L817.1 967.8 L820.8 966.0 L824.4 964.3 L828.1 962.6 L831.7 960.9 L835.4 959.3 L839.1 957.8 L842.8 956.3 L846.5 954.9 L850.3 953.5 L854.0 952.2 L857.8 950.9 L861.6 949.6 L865.4 948.4 L869.2 947.2 L873.0 946.0 L876.9 944.9 L880.7 943.8 L884.5 942.7 L888.4 941.7 L892.3 940.7 L896.1 939.7 L900.0 938.7 L903.9 937.8 L907.8 936.9 L911.7 936.0 L915.6 935.1 L919.5 934.2 L923.4 933.4 L927.4 932.5 L931.3 931.7 L935.2 930.9 L939.2 930.2 L943.1 929.4 L947.1 928.7 L951.0 927.9 L955.0 927.2 L958.9 926.5 L962.9 925.9 L966.8 925.2 L970.8 924.5 L974.8 923.9 L978.7 923.3 L982.7 922.7 L986.7 922.1 L990.6 921.5 L994.6 920.9 L998.6 920.3 L1002.6 919.8 L1006.5 919.2 L1010.5 918.7 L1014.5 918.2 L1018.5 917.7 L1022.5 917.2 L1026.4 916.7 L1030.4 916.2 L1034.4 915.8 L1038.4 915.3 L1042.4 914.9 L1046.3 914.4 L1050.3 914.0 L1054.3 913.6 L1058.3 913.2 L1062.3 912.8 L1066.3 912.4 L1070.3 912.0 L1074.3 911.7 L1078.3 911.3 L1082.2 910.9 L1086.2 910.6 L1090.2 910.3 L1094.2 909.9 L1098.2 909.6 L1102.2 909.3 L1106.2 909.0 L1110.2 908.7 L1114.2 908.4 L1118.2 908.1 L1122.2 907.8 L1126.2 907.6 L1130.2 907.3 L1134.2 907.1 L1138.2 906.8 L1142.2 906.6 L1146.2 906.3 L1150.2 906.1 L1154.2 905.9 L1158.2 905.7 L1162.2 905.4 L1166.2 905.2 L1170.2 905.0 L1174.2 904.8 L1178.2 904.6 L1182.2 904.4 L1186.2 904.3 L1190.2 904.1 L1194.2 903.9 L1198.2 903.7 L1202.2 903.6 L1206.2 903.4 L1210.3 903.2 L1214.3 903.1 L1218.3 902.9 L1222.3 902.8 L1226.3 902.6 L1230.3 902.5 L1234.3 902.4 L1238.3 902.2 L1242.3 902.1 L1246.3 901.9 L1250.3 901.8 L1254.3 901.7 L1258.3 901.6 L1262.3 901.4 L1266.4 901.3 L1270.4 901.2 L1274.4 901.1 L1278.4 900.9 L1282.4 900.8 L1286.4 900.7 L1290.4 900.6 L1294.4 900.5 L1298.4 900.3 L1302.4 900.2 L1306.4 900.1 L1310.5 900.0 L1314.5 899.9 L1318.5 899.8 L1322.5 899.7 L1326.5 899.6 L1330.5 899.4 L1334.5 899.3 L1338.5 899.2 L1342.5 899.1 L1346.5 899.0 L1350.5 898.9 L1354.5 898.8 L1358.6 898.7 L1362.6 898.6 L1366.6 898.5 L1370.6 898.4 L1374.6 898.3 L1378.6 898.2 L1382.6 898.1 L1386.6 898.0 L1390.6 897.9 L1394.6 897.8 L1398.6 897.7 L1402.6 897.6 L1406.7 897.5 L1410.7 897.4 L1414.7 897.3 L1418.7 897.2 L1422.7 897.1 L1426.7 897.1 L1430.7 897.0 L1434.7 896.9 L1438.7 896.8 L1442.7 896.7 L1446.7 896.6 L1450.8 896.5 L1454.8 896.4 L1458.8 896.4 L1462.8 896.3 L1466.8 896.2 L1470.8 896.1 L1474.8 896.0 L1478.8 896.0 L1482.8 895.9 L1486.8 895.8 L1490.8 895.7 L1494.8 895.6 L1498.9 895.6 L1502.9 895.5 L1506.9 895.4 L1510.9 895.3 L1514.9 895.3 L1518.9 895.2 L1522.9 895.1 L1526.9 895.1 L1530.9 895.0 L1534.9 894.9 L1538.9 894.9 L1543.0 894.8 L1547.0 894.7 L1551.0 894.7 L1555.0 894.6 L1559.0 894.5 L1563.0 894.5 L1567.0 894.4 L1571.0 894.3 L1575.0 894.3 L1579.0 894.2 L1583.0 894.2 L1587.0 894.1 L1591.1 894.0 L1595.1 894.0 L1599.1 893.9 L1603.1 893.9 L1607.1 893.8 L1611.1 893.8 L1615.1 893.7 L1619.1 893.6 L1623.1 893.6 L1627.1 893.5 L1631.1 893.5 L1635.2 893.4 L1639.2 893.4 L1643.2 893.3 L1647.2 893.3 L1651.2 893.2 L1655.2 893.2 L1659.2 893.2 L1663.2 893.1 L1667.2 893.1 L1671.2 893.0 L1675.2 893.0 L1679.3 892.9 L1683.3 892.9 L1687.3 892.8 L1691.3 892.8 L1695.3 892.8 L1699.3 892.7 L1703.3 892.7 L1707.3 892.7 L1711.3 892.6 L1715.3 892.6 L1719.3 892.5 L1723.4 892.5 L1727.4 892.5 L1731.4 892.4 L1735.4 892.4 L1739.4 892.4 L1743.4 892.3 L1747.4 892.3 L1751.4 892.3 L1755.4 892.3 L1759.4 892.2 L1763.4 892.2 L1767.5 892.2 L1771.5 892.2 L1775.5 892.1 L1779.5 892.1 L1783.5 892.1 L1787.5 892.1 L1791.5 892.0 L1795.5 892.0 L1799.5 892.0 L1803.5 892.0 L1807.6 891.9 L1811.6 891.9 L1815.6 891.9 L1819.6 891.9 L1823.6 891.9 L1827.6 891.9 L1831.6 891.8 L1835.6 891.8 L1839.6 891.8 L1843.6 891.8 L1847.6 891.8 L1851.7 891.8 L1855.7 891.8 L1859.7 891.7 L1863.7 891.7 L1867.7 891.7 L1871.7 891.7 L1875.7 891.7 L1879.7 891.7 L1883.7 891.7 L1887.7 891.7 L1891.8 891.7 L1895.8 891.7 L1899.8 891.7 L1903.8 891.7 L1907.8 891.7 L1911.8 891.6 L1915.8 891.6 L1919.8 891.6 L1923.8 891.6 L1927.8 891.6 L1931.9 891.6 L1935.9 891.6 L1939.9 891.6 L1943.9 891.6 L1947.9 891.6 L1951.9 891.7 L1955.9 891.7 L1959.9 891.7 L1963.9 891.7 L1967.9 891.7 L1972.0 891.7 L1976.0 891.7 L1980.0 891.7 L1984.0 891.7 L1988.0 891.7 L1992.0 891.7" stroke="#b8343c" stroke-width="4.0" fill="none" stroke-linecap="round" stroke-linejoin="round"/>
<path d="M590.8 1048.5 L591.3 1044.5 L591.9 1040.5 L592.4 1036.6 L593.1 1032.7 L593.7 1028.7 L594.4 1024.8 L595.1 1020.9 L595.9 1017.0 L596.7 1013.1 L597.6 1009.2 L598.4 1005.3 L599.4 1001.5 L600.3 997.6 L601.3 993.8 L602.4 989.9 L603.5 986.1 L604.6 982.3 L605.8 978.5 L607.0 974.7 L608.2 970.9 L609.6 967.1 L610.9 963.3 L612.3 959.5 L613.8 955.7 L615.3 952.0 L616.8 948.2 L618.4 944.4 L620.1 940.7 L621.8 937.0 L623.5 933.2 L625.3 929.5 L627.2 925.9 L629.1 922.2 L631.1 918.6 L633.1 915.1 L635.2 911.5 L637.3 908.0 L639.5 904.6 L641.8 901.2 L644.1 897.9 L646.5 894.6 L648.9 891.4 L651.4 888.2 L654.0 885.1 L656.6 882.1 L659.3 879.2 L662.0 876.3 L664.9 873.5 L667.8 870.8 L670.7 868.2 L673.7 865.7 L676.8 863.3 L680.0 861.0 L683.2 858.7 L686.5 856.6 L689.8 854.5 L693.2 852.5 L696.6 850.6 L700.1 848.8 L703.6 847.0 L707.2 845.4 L710.8 843.8 L714.5 842.3 L718.2 840.9 L721.9 839.5 L725.7 838.3 L729.5 837.1 L733.4 835.9 L737.3 834.9 L741.2 833.9 L745.1 833.0 L749.0 832.2 L753.0 831.4 L757.0 830.7 L761.0 830.1 L765.0 829.5 L769.1 829.0 L773.1 828.5 L777.2 828.2 L781.2 827.9 L785.3 827.6 L789.4 827.4 L793.4 827.3 L797.5 827.2 L801.6 827.2 L805.6 827.2 L809.7 827.3 L813.7 827.5 L817.8 827.7 L821.8 827.9 L825.8 828.2 L829.9 828.6 L833.9 829.0 L837.9 829.5 L841.9 830.0 L845.8 830.6 L849.8 831.2 L853.8 831.9 L857.7 832.6 L861.6 833.4 L865.6 834.3 L869.5 835.1 L873.4 836.1 L877.3 837.0 L881.1 838.1 L885.0 839.1 L888.8 840.3 L892.6 841.4 L896.5 842.7 L900.2 843.9 L904.0 845.2 L907.8 846.6 L911.5 848.0 L915.2 849.4 L918.9 850.9 L922.6 852.5 L926.3 854.0 L929.9 855.6 L933.6 857.3 L937.2 859.0 L940.8 860.7 L944.4 862.5 L947.9 864.3 L951.5 866.1 L955.0 868.0 L958.6 869.9 L962.1 871.8 L965.6 873.7 L969.1 875.7 L972.6 877.6 L976.1 879.6 L979.6 881.6 L983.1 883.6 L986.5 885.6 L990.0 887.6 L993.5 889.6 L997.0 891.6 L1000.5 893.7 L1003.9 895.7 L1007.4 897.7 L1010.9 899.7 L1014.4 901.7 L1017.9 903.7 L1021.4 905.6 L1025.0 907.6 L1028.5 909.5 L1032.0 911.4 L1035.6 913.3 L1039.1 915.2 L1042.7 917.0 L1046.3 918.9 L1049.9 920.6 L1053.6 922.4 L1057.2 924.1 L1060.9 925.8 L1064.5 927.4 L1068.2 929.0 L1071.9 930.6 L1075.7 932.1 L1079.4 933.6 L1083.1 935.0 L1086.9 936.4 L1090.7 937.8 L1094.5 939.0 L1098.3 940.3 L1102.1 941.5 L1105.9 942.6 L1109.8 943.7 L1113.7 944.7 L1117.5 945.6 L1121.4 946.5 L1125.3 947.4 L1129.2 948.1 L1133.1 948.9 L1137.1 949.5 L1141.0 950.1 L1145.0 950.6 L1149.0 951.0 L1152.9 951.4 L1156.9 951.7 L1160.9 951.9 L1164.9 952.1 L1168.9 952.2 L1172.9 952.3 L1177.0 952.3 L1181.0 952.3 L1185.0 952.3 L1189.0 952.2 L1193.0 952.1 L1197.0 951.9 L1201.0 951.7 L1205.0 951.5 L1208.9 951.3 L1212.9 951.0 L1216.9 950.7 L1220.9 950.3 L1224.9 949.9 L1228.9 949.5 L1232.9 949.1 L1236.9 948.7 L1240.9 948.2 L1244.8 947.7 L1248.8 947.2 L1252.8 946.7 L1256.8 946.2 L1260.8 945.6 L1264.8 945.0 L1268.7 944.5 L1272.7 943.9 L1276.7 943.3 L1280.7 942.7 L1284.7 942.0 L1288.6 941.4 L1292.6 940.8 L1296.6 940.2 L1300.6 939.5 L1304.5 938.9 L1308.5 938.3 L1312.5 937.7 L1316.5 937.0 L1320.5 936.4 L1324.4 935.8 L1328.4 935.2 L1332.4 934.6 L1336.4 934.0 L1340.3 933.5 L1344.3 932.9 L1348.3 932.4 L1352.3 931.8 L1356.3 931.3 L1360.2 930.8 L1364.2 930.3 L1368.2 929.9 L1372.2 929.4 L1376.2 929.0 L1380.2 928.5 L1384.1 928.1 L1388.1 927.7 L1392.1 927.3 L1396.1 926.9 L1400.1 926.5 L1404.0 926.1 L1408.0 925.7 L1412.0 925.3 L1416.0 925.0 L1420.0 924.6 L1424.0 924.2 L1428.0 923.9 L1431.9 923.5 L1435.9 923.1 L1439.9 922.8 L1443.9 922.4 L1447.9 922.0 L1451.9 921.6 L1455.8 921.3 L1459.8 920.9 L1463.8 920.5 L1467.8 920.1 L1471.8 919.7 L1475.8 919.3 L1479.8 918.8 L1483.7 918.4 L1487.7 918.0 L1491.7 917.5 L1495.7 917.0 L1499.7 916.6 L1503.7 916.1 L1507.6 915.6 L1511.6 915.1 L1515.6 914.6 L1519.6 914.1 L1523.6 913.6 L1527.6 913.1 L1531.5 912.6 L1535.5 912.1 L1539.5 911.6 L1543.5 911.1 L1547.5 910.6 L1551.5 910.1 L1555.5 909.6 L1559.5 909.1 L1563.4 908.6 L1567.4 908.1 L1571.4 907.6 L1575.4 907.2 L1579.4 906.7 L1583.4 906.2 L1587.4 905.8 L1591.4 905.3 L1595.4 904.9 L1599.3 904.5 L1603.3 904.1 L1607.3 903.7 L1611.3 903.3 L1615.3 902.9 L1619.3 902.6 L1623.3 902.2 L1627.3 901.8 L1631.3 901.5 L1635.3 901.2 L1639.3 900.8 L1643.3 900.5 L1647.3 900.2 L1651.3 899.9 L1655.3 899.6 L1659.3 899.3 L1663.3 899.0 L1667.3 898.8 L1671.3 898.5 L1675.3 898.2 L1679.3 898.0 L1683.3 897.7 L1687.3 897.5 L1691.3 897.3 L1695.3 897.1 L1699.3 896.8 L1703.3 896.6 L1707.3 896.4 L1711.3 896.2 L1715.3 896.0 L1719.3 895.9 L1723.3 895.7 L1727.3 895.5 L1731.4 895.3 L1735.4 895.2 L1739.4 895.0 L1743.4 894.9 L1747.4 894.7 L1751.4 894.6 L1755.4 894.4 L1759.4 894.3 L1763.4 894.2 L1767.4 894.0 L1771.4 893.9 L1775.4 893.8 L1779.4 893.7 L1783.5 893.6 L1787.5 893.5 L1791.5 893.4 L1795.5 893.3 L1799.5 893.2 L1803.5 893.1 L1807.5 893.0 L1811.5 892.9 L1815.5 892.8 L1819.5 892.7 L1823.6 892.7 L1827.6 892.6 L1831.6 892.5 L1835.6 892.4 L1839.6 892.4 L1843.6 892.3 L1847.6 892.2 L1851.6 892.2 L1855.6 892.1 L1859.7 892.1 L1863.7 892.0 L1867.7 891.9 L1871.7 891.9 L1875.7 891.8 L1879.7 891.8 L1883.7 891.7 L1887.7 891.7 L1891.8 891.6 L1895.8 891.5 L1899.8 891.5 L1903.8 891.4 L1907.8 891.4 L1911.8 891.3 L1915.8 891.3 L1919.8 891.2 L1923.8 891.2 L1927.9 891.1 L1931.9 891.1 L1935.9 891.0 L1939.9 890.9 L1943.9 890.9 L1947.9 890.8 L1951.9 890.8 L1955.9 890.7 L1959.9 890.6 L1963.9 890.6 L1968.0 890.5 L1972.0 890.4 L1976.0 890.3 L1980.0 890.3 L1984.0 890.2 L1988.0 890.1 L1992.0 890.0" stroke="#7f7b2c" stroke-width="4.0" fill="none" stroke-linecap="round" stroke-linejoin="round"/>
<path d="M806.9 1083.0 L807.5 1079.0 L808.1 1075.0 L808.7 1071.1 L809.4 1067.1 L810.0 1063.1 L810.6 1059.1 L811.2 1055.1 L811.8 1051.2 L812.5 1047.2 L813.1 1043.2 L813.7 1039.3 L814.3 1035.3 L815.0 1031.3 L815.6 1027.4 L816.3 1023.4 L816.9 1019.4 L817.6 1015.5 L818.3 1011.5 L819.0 1007.6 L819.7 1003.6 L820.4 999.7 L821.1 995.7 L821.9 991.8 L822.6 987.8 L823.4 983.9 L824.2 980.0 L825.0 976.0 L825.8 972.1 L826.7 968.2 L827.5 964.3 L828.4 960.4 L829.3 956.5 L830.3 952.6 L831.2 948.7 L832.2 944.8 L833.2 940.9 L834.3 937.1 L835.3 933.2 L836.4 929.4 L837.5 925.5 L838.7 921.7 L839.8 917.8 L841.1 914.0 L842.3 910.2 L843.6 906.4 L844.9 902.6 L846.2 898.8 L847.6 895.0 L849.0 891.2 L850.5 887.4 L852.0 883.7 L853.5 879.9 L855.1 876.2 L856.7 872.4 L858.4 868.7 L860.1 865.0 L861.8 861.3 L863.6 857.6 L865.4 854.0 L867.3 850.4 L869.2 846.8 L871.2 843.2 L873.2 839.7 L875.2 836.1 L877.3 832.7 L879.5 829.2 L881.7 825.8 L884.0 822.5 L886.3 819.1 L888.6 815.9 L891.0 812.6 L893.5 809.5 L896.0 806.3 L898.6 803.3 L901.2 800.2 L903.9 797.3 L906.6 794.4 L909.4 791.5 L912.2 788.8 L915.1 786.0 L918.1 783.4 L921.1 780.8 L924.2 778.3 L927.3 775.9 L930.5 773.6 L933.8 771.3 L937.1 769.1 L940.5 767.0 L943.9 765.0 L947.3 763.0 L950.9 761.2 L954.4 759.4 L958.0 757.6 L961.7 756.0 L965.3 754.5 L969.0 753.0 L972.8 751.6 L976.6 750.3 L980.4 749.1 L984.2 747.9 L988.1 746.9 L992.0 745.9 L995.9 745.0 L999.9 744.2 L1003.8 743.5 L1007.8 742.9 L1011.8 742.3 L1015.8 741.8 L1019.8 741.4 L1023.8 741.0 L1027.9 740.7 L1031.9 740.5 L1036.0 740.4 L1040.0 740.3 L1044.1 740.2 L1048.1 740.3 L1052.2 740.4 L1056.2 740.5 L1060.3 740.7 L1064.3 741.0 L1068.4 741.3 L1072.4 741.6 L1076.4 742.0 L1080.4 742.5 L1084.5 743.0 L1088.5 743.6 L1092.5 744.2 L1096.5 744.9 L1100.5 745.6 L1104.5 746.3 L1108.4 747.1 L1112.4 748.0 L1116.4 748.9 L1120.3 749.8 L1124.2 750.8 L1128.2 751.9 L1132.1 752.9 L1136.0 754.0 L1139.9 755.2 L1143.7 756.4 L1147.6 757.6 L1151.4 758.9 L1155.3 760.2 L1159.1 761.6 L1162.9 762.9 L1166.7 764.4 L1170.4 765.8 L1174.2 767.3 L1177.9 768.8 L1181.6 770.4 L1185.3 772.0 L1189.0 773.6 L1192.7 775.2 L1196.3 776.9 L1199.9 778.6 L1203.5 780.4 L1207.1 782.2 L1210.7 784.0 L1214.2 785.8 L1217.7 787.7 L1221.2 789.7 L1224.7 791.6 L1228.1 793.6 L1231.6 795.6 L1235.0 797.7 L1238.4 799.8 L1241.7 801.9 L1245.1 804.1 L1248.4 806.3 L1251.7 808.6 L1255.0 810.8 L1258.3 813.1 L1261.5 815.4 L1264.8 817.8 L1268.0 820.1 L1271.2 822.5 L1274.5 824.9 L1277.7 827.3 L1280.8 829.8 L1284.0 832.2 L1287.2 834.7 L1290.4 837.1 L1293.6 839.6 L1296.7 842.1 L1299.9 844.5 L1303.1 847.0 L1306.3 849.5 L1309.4 852.0 L1312.6 854.4 L1315.8 856.9 L1319.0 859.3 L1322.2 861.8 L1325.4 864.2 L1328.7 866.6 L1331.9 869.0 L1335.1 871.4 L1338.4 873.8 L1341.7 876.1 L1345.0 878.4 L1348.3 880.7 L1351.6 883.0 L1355.0 885.2 L1358.3 887.5 L1361.7 889.7 L1365.1 891.8 L1368.5 894.0 L1371.9 896.1 L1375.4 898.1 L1378.9 900.2 L1382.4 902.2 L1385.9 904.1 L1389.4 906.1 L1393.0 908.0 L1396.5 909.8 L1400.1 911.7 L1403.7 913.4 L1407.4 915.2 L1411.0 916.9 L1414.7 918.6 L1418.4 920.2 L1422.1 921.8 L1425.8 923.3 L1429.5 924.8 L1433.3 926.3 L1437.0 927.7 L1440.8 929.1 L1444.6 930.4 L1448.4 931.7 L1452.2 933.0 L1456.1 934.1 L1459.9 935.3 L1463.8 936.4 L1467.6 937.4 L1471.5 938.4 L1475.4 939.4 L1479.3 940.3 L1483.2 941.2 L1487.2 942.0 L1491.1 942.7 L1495.1 943.4 L1499.0 944.1 L1503.0 944.7 L1507.0 945.3 L1510.9 945.8 L1514.9 946.3 L1518.9 946.7 L1522.9 947.1 L1526.9 947.5 L1530.9 947.8 L1534.9 948.1 L1539.0 948.4 L1543.0 948.6 L1547.0 948.8 L1551.0 949.0 L1555.0 949.1 L1559.0 949.2 L1563.1 949.3 L1567.1 949.4 L1571.1 949.4 L1575.1 949.4 L1579.1 949.4 L1583.1 949.4 L1587.1 949.3 L1591.2 949.2 L1595.2 949.1 L1599.2 949.0 L1603.2 948.9 L1607.2 948.7 L1611.2 948.5 L1615.2 948.3 L1619.3 948.1 L1623.3 947.9 L1627.3 947.6 L1631.3 947.4 L1635.3 947.1 L1639.3 946.8 L1643.3 946.5 L1647.3 946.1 L1651.4 945.8 L1655.4 945.5 L1659.4 945.1 L1663.4 944.7 L1667.4 944.4 L1671.4 944.0 L1675.4 943.6 L1679.4 943.2 L1683.4 942.8 L1687.4 942.3 L1691.4 941.9 L1695.5 941.5 L1699.5 941.0 L1703.5 940.6 L1707.5 940.2 L1711.5 939.7 L1715.5 939.3 L1719.5 938.8 L1723.5 938.4 L1727.5 937.9 L1731.5 937.5 L1735.5 937.0 L1739.5 936.6 L1743.5 936.1 L1747.5 935.7 L1751.5 935.2 L1755.5 934.8 L1759.5 934.4 L1763.5 933.9 L1767.5 933.5 L1771.5 933.1 L1775.5 932.7 L1779.5 932.3 L1783.5 931.9 L1787.5 931.5 L1791.5 931.1 L1795.5 930.7 L1799.5 930.3 L1803.5 929.9 L1807.5 929.6 L1811.5 929.2 L1815.5 928.8 L1819.5 928.5 L1823.5 928.1 L1827.5 927.8 L1831.5 927.4 L1835.5 927.1 L1839.5 926.8 L1843.5 926.5 L1847.5 926.1 L1851.5 925.8 L1855.5 925.5 L1859.5 925.2 L1863.5 925.0 L1867.5 924.7 L1871.5 924.4 L1875.5 924.1 L1879.5 923.9 L1883.5 923.6 L1887.5 923.4 L1891.5 923.2 L1895.5 922.9 L1899.5 922.7 L1903.5 922.5 L1907.5 922.3 L1911.5 922.1 L1915.6 921.9 L1919.6 921.7 L1923.6 921.5 L1927.6 921.4 L1931.6 921.2 L1935.6 921.1 L1939.7 920.9 L1943.7 920.8 L1947.7 920.7 L1951.7 920.6 L1955.7 920.5 L1959.8 920.4 L1963.8 920.3 L1967.8 920.2 L1971.9 920.2 L1975.9 920.1 L1979.9 920.1 L1984.0 920.0 L1988.0 920.0 L1992.0 920.0" stroke="#45d4dc" stroke-width="4.0" fill="none" stroke-linecap="round" stroke-linejoin="round"/>
<path d="M891.0 990.3 L892.1 986.5 L893.3 982.7 L894.6 978.9 L896.0 975.2 L897.5 971.5 L899.2 967.8 L900.9 964.1 L902.7 960.4 L904.6 956.8 L906.6 953.3 L908.7 949.8 L910.9 946.3 L913.2 943.0 L915.6 939.6 L918.1 936.4 L920.6 933.2 L923.3 930.2 L926.0 927.2 L928.8 924.3 L931.7 921.5 L934.7 918.8 L937.8 916.3 L941.0 913.8 L944.2 911.5 L947.6 909.4 L951.0 907.3 L954.5 905.4 L958.1 903.6 L961.7 901.9 L965.4 900.3 L969.1 898.7 L972.8 897.2 L976.6 895.7 L980.3 894.3 L984.1 892.8 L987.9 891.4 L991.7 890.1 L995.5 888.7 L999.3 887.4 L1003.1 886.1 L1006.9 884.8 L1010.8 883.5 L1014.6 882.3 L1018.4 881.1 L1022.3 879.9 L1026.1 878.7 L1030.0 877.6 L1033.9 876.4 L1037.8 875.3 L1041.6 874.3 L1045.5 873.2 L1049.4 872.2 L1053.3 871.2 L1057.2 870.3 L1061.1 869.3 L1065.1 868.4 L1069.0 867.5 L1072.9 866.7 L1076.9 865.8 L1080.8 865.0 L1084.7 864.3 L1088.7 863.5 L1092.6 862.8 L1096.6 862.1 L1100.6 861.4 L1104.5 860.8 L1108.5 860.2 L1112.5 859.6 L1116.5 859.0 L1120.5 858.5 L1124.5 858.0 L1128.5 857.5 L1132.5 857.0 L1136.5 856.6 L1140.5 856.2 L1144.5 855.8 L1148.5 855.4 L1152.5 855.0 L1156.5 854.7 L1160.5 854.3 L1164.5 854.0 L1168.6 853.7 L1172.6 853.4 L1176.6 853.1 L1180.6 852.8 L1184.6 852.5 L1188.7 852.2 L1192.7 851.9 L1196.7 851.6 L1200.7 851.3 L1204.8 851.0 L1208.8 850.7 L1212.8 850.4 L1216.8 850.1 L1220.8 849.8 L1224.9 849.5 L1228.9 849.2 L1232.9 848.8 L1236.9 848.5 L1240.9 848.1 L1244.9 847.7 L1248.9 847.3 L1252.9 846.9 L1256.9 846.4 L1260.9 846.0 L1264.9 845.5 L1268.9 845.0 L1272.8 844.5 L1276.8 843.9 L1280.8 843.3 L1284.7 842.7 L1288.7 842.1 L1292.7 841.4 L1296.6 840.7 L1300.5 839.9 L1304.5 839.2 L1308.4 838.3 L1312.3 837.5 L1316.2 836.6 L1320.2 835.7 L1324.1 834.8 L1328.0 833.8 L1331.9 832.8 L1335.7 831.8 L1339.6 830.7 L1343.5 829.6 L1347.4 828.5 L1351.2 827.4 L1355.1 826.2 L1358.9 825.0 L1362.8 823.8 L1366.6 822.6 L1370.4 821.3 L1374.3 820.0 L1378.1 818.7 L1381.9 817.4 L1385.7 816.0 L1389.5 814.6 L1393.3 813.2 L1397.1 811.8 L1400.8 810.4 L1404.6 808.9 L1408.4 807.5 L1412.1 806.0 L1415.9 804.5 L1419.6 803.0 L1423.4 801.5 L1427.1 800.0 L1430.9 798.4 L1434.6 796.9 L1438.3 795.4 L1442.1 793.8 L1445.8 792.3 L1449.5 790.7 L1453.3 789.2 L1457.0 787.7 L1460.8 786.2 L1464.5 784.7 L1468.2 783.2 L1472.0 781.7 L1475.7 780.2 L1479.5 778.8 L1483.2 777.3 L1487.0 775.9 L1490.8 774.5 L1494.5 773.1 L1498.3 771.8 L1502.1 770.5 L1505.9 769.2 L1509.7 767.9 L1513.5 766.7 L1517.3 765.5 L1521.1 764.3 L1525.0 763.2 L1528.8 762.1 L1532.7 761.0 L1536.6 760.0 L1540.4 759.0 L1544.3 758.1 L1548.2 757.2 L1552.2 756.3 L1556.1 755.5 L1560.0 754.8 L1564.0 754.0 L1567.9 753.4 L1571.9 752.7 L1575.9 752.1 L1579.8 751.5 L1583.8 751.0 L1587.8 750.5 L1591.8 750.1 L1595.8 749.7 L1599.8 749.3 L1603.9 749.0 L1607.9 748.7 L1611.9 748.4 L1615.9 748.2 L1620.0 748.0 L1624.0 747.9 L1628.0 747.8 L1632.1 747.7 L1636.1 747.7 L1640.1 747.7 L1644.2 747.7 L1648.2 747.8 L1652.2 747.9 L1656.3 748.1 L1660.3 748.2 L1664.4 748.5 L1668.4 748.7 L1672.4 749.0 L1676.4 749.3 L1680.5 749.7 L1684.5 750.1 L1688.5 750.5 L1692.5 750.9 L1696.5 751.4 L1700.5 752.0 L1704.5 752.5 L1708.5 753.1 L1712.5 753.7 L1716.5 754.4 L1720.4 755.1 L1724.4 755.8 L1728.4 756.6 L1732.3 757.4 L1736.3 758.2 L1740.2 759.0 L1744.1 759.9 L1748.0 760.9 L1752.0 761.8 L1755.9 762.8 L1759.7 763.8 L1763.6 764.9 L1767.5 766.0 L1771.4 767.1 L1775.2 768.3 L1779.1 769.5 L1782.9 770.7 L1786.7 771.9 L1790.5 773.2 L1794.3 774.6 L1798.1 775.9 L1801.9 777.3 L1805.6 778.7 L1809.4 780.2 L1813.1 781.6 L1816.8 783.2 L1820.5 784.7 L1824.2 786.3 L1827.9 787.9 L1831.6 789.5 L1835.2 791.2 L1838.9 792.9 L1842.5 794.7 L1846.1 796.4 L1849.7 798.2 L1853.3 800.0 L1856.9 801.8 L1860.5 803.7 L1864.0 805.5 L1867.6 807.4 L1871.1 809.3 L1874.7 811.2 L1878.2 813.2 L1881.8 815.1 L1885.3 817.1 L1888.8 819.0 L1892.3 821.0 L1895.9 823.0 L1899.4 824.9 L1902.9 826.9 L1906.4 828.9 L1909.9 830.9 L1913.4 832.9 L1916.9 834.9 L1920.4 836.8 L1924.0 838.8 L1927.5 840.8 L1931.0 842.8 L1934.5 844.7 L1938.0 846.6 L1941.6 848.6 L1945.1 850.5 L1948.7 852.4 L1952.2 854.3 L1955.8 856.2 L1959.3 858.0 L1962.9 859.8 L1966.5 861.7 L1970.1 863.4 L1973.7 865.2 L1977.3 866.9 L1981.0 868.7 L1984.6 870.3 L1988.2 872.0 L1991.9 873.6" stroke="#4ccb4c" stroke-width="4.0" fill="none" stroke-linecap="round" stroke-linejoin="round"/>
<path d="M1174.1 1120.0 L1174.4 1115.9 L1174.7 1111.8 L1175.2 1107.7 L1175.7 1103.6 L1176.3 1099.6 L1177.0 1095.6 L1177.8 1091.6 L1178.6 1087.7 L1179.5 1083.7 L1180.5 1079.8 L1181.5 1075.9 L1182.6 1072.1 L1183.8 1068.2 L1185.0 1064.4 L1186.3 1060.6 L1187.6 1056.8 L1189.0 1053.1 L1190.5 1049.4 L1192.0 1045.7 L1193.6 1042.0 L1195.2 1038.3 L1196.9 1034.7 L1198.6 1031.1 L1200.3 1027.5 L1202.2 1023.9 L1204.0 1020.3 L1205.9 1016.8 L1207.9 1013.3 L1209.8 1009.8 L1211.9 1006.3 L1213.9 1002.8 L1216.0 999.4 L1218.2 996.0 L1220.3 992.6 L1222.5 989.2 L1224.7 985.9 L1227.0 982.5 L1229.3 979.2 L1231.6 975.9 L1234.0 972.6 L1236.4 969.3 L1238.8 966.1 L1241.2 962.8 L1243.7 959.6 L1246.1 956.4 L1248.6 953.2 L1251.2 950.0 L1253.7 946.9 L1256.3 943.7 L1258.9 940.6 L1261.5 937.5 L1264.1 934.4 L1266.8 931.3 L1269.4 928.3 L1272.1 925.2 L1274.9 922.2 L1277.6 919.2 L1280.4 916.3 L1283.2 913.4 L1286.1 910.5 L1289.0 907.7 L1291.9 905.0 L1294.9 902.3 L1297.9 899.6 L1301.0 897.0 L1304.1 894.5 L1307.3 892.0 L1310.5 889.5 L1313.7 887.1 L1317.0 884.8 L1320.3 882.5 L1323.6 880.3 L1327.0 878.1 L1330.4 876.0 L1333.9 874.0 L1337.4 871.9 L1340.9 870.0 L1344.4 868.1 L1348.0 866.2 L1351.6 864.4 L1355.2 862.7 L1358.9 861.0 L1362.6 859.4 L1366.3 857.8 L1370.0 856.3 L1373.8 854.8 L1377.5 853.4 L1381.3 852.1 L1385.1 850.8 L1389.0 849.5 L1392.8 848.4 L1396.7 847.2 L1400.6 846.1 L1404.5 845.1 L1408.4 844.2 L1412.4 843.3 L1416.3 842.4 L1420.3 841.6 L1424.3 840.9 L1428.2 840.2 L1432.2 839.6 L1436.2 839.0 L1440.2 838.5 L1444.3 838.0 L1448.3 837.6 L1452.3 837.3 L1456.3 837.0 L1460.4 836.7 L1464.4 836.6 L1468.4 836.5 L1472.5 836.4 L1476.5 836.4 L1480.5 836.5 L1484.5 836.6 L1488.6 836.7 L1492.6 837.0 L1496.6 837.2 L1500.6 837.6 L1504.6 838.0 L1508.6 838.5 L1512.6 839.0 L1516.6 839.5 L1520.5 840.2 L1524.5 840.9 L1528.4 841.6 L1532.3 842.4 L1536.3 843.3 L1540.2 844.1 L1544.1 845.1 L1548.0 846.1 L1551.8 847.1 L1555.7 848.2 L1559.6 849.3 L1563.4 850.4 L1567.3 851.6 L1571.1 852.9 L1575.0 854.1 L1578.8 855.4 L1582.6 856.7 L1586.4 858.0 L1590.3 859.4 L1594.1 860.8 L1597.9 862.2 L1601.7 863.6 L1605.5 865.1 L1609.2 866.6 L1613.0 868.0 L1616.8 869.5 L1620.6 871.0 L1624.4 872.5 L1628.1 874.0 L1631.9 875.6 L1635.7 877.1 L1639.4 878.6 L1643.2 880.1 L1646.9 881.7 L1650.7 883.2 L1654.5 884.7 L1658.2 886.2 L1662.0 887.7 L1665.7 889.2 L1669.5 890.7 L1673.3 892.2 L1677.0 893.7 L1680.8 895.2 L1684.5 896.6 L1688.3 898.1 L1692.1 899.5 L1695.8 900.9 L1699.6 902.4 L1703.4 903.8 L1707.2 905.2 L1710.9 906.5 L1714.7 907.9 L1718.5 909.3 L1722.3 910.6 L1726.1 911.9 L1729.9 913.2 L1733.7 914.5 L1737.5 915.7 L1741.3 917.0 L1745.2 918.2 L1749.0 919.4 L1752.8 920.6 L1756.7 921.7 L1760.5 922.9 L1764.4 924.0 L1768.2 925.1 L1772.1 926.1 L1776.0 927.1 L1779.9 928.1 L1783.8 929.1 L1787.7 930.1 L1791.6 931.0 L1795.5 931.9 L1799.4 932.8 L1803.4 933.6 L1807.3 934.5 L1811.3 935.3 L1815.2 936.0 L1819.2 936.8 L1823.1 937.5 L1827.1 938.2 L1831.1 938.9 L1835.1 939.5 L1839.1 940.2 L1843.0 940.8 L1847.0 941.4 L1851.0 941.9 L1855.0 942.4 L1859.0 943.0 L1863.1 943.4 L1867.1 943.9 L1871.1 944.4 L1875.1 944.8 L1879.1 945.2 L1883.2 945.5 L1887.2 945.9 L1891.2 946.2 L1895.2 946.5 L1899.3 946.8 L1903.3 947.1 L1907.3 947.3 L1911.4 947.5 L1915.4 947.7 L1919.5 947.9 L1923.5 948.1 L1927.5 948.2 L1931.6 948.3 L1935.6 948.4 L1939.6 948.5 L1943.7 948.5 L1947.7 948.6 L1951.7 948.6 L1955.8 948.6 L1959.8 948.6 L1963.8 948.5 L1967.9 948.5 L1971.9 948.4 L1975.9 948.3 L1979.9 948.2 L1983.9 948.0 L1988.0 947.9 L1992.0 947.7" stroke="#bb45c8" stroke-width="4.0" fill="none" stroke-linecap="round" stroke-linejoin="round"/>
<path d="M1472.4 1106.7 L1474.1 1103.0 L1475.9 1099.4 L1477.7 1095.8 L1479.6 1092.2 L1481.5 1088.7 L1483.5 1085.1 L1485.5 1081.6 L1487.6 1078.2 L1489.6 1074.7 L1491.8 1071.3 L1494.0 1067.9 L1496.2 1064.5 L1498.4 1061.2 L1500.7 1057.9 L1503.1 1054.6 L1505.4 1051.3 L1507.8 1048.0 L1510.2 1044.8 L1512.7 1041.6 L1515.2 1038.4 L1517.7 1035.2 L1520.2 1032.0 L1522.8 1028.9 L1525.4 1025.8 L1528.0 1022.7 L1530.6 1019.6 L1533.3 1016.5 L1535.9 1013.5 L1538.6 1010.5 L1541.4 1007.4 L1544.1 1004.5 L1546.9 1001.5 L1549.7 998.5 L1552.5 995.6 L1555.3 992.7 L1558.1 989.7 L1561.0 986.9 L1563.8 984.0 L1566.7 981.1 L1569.6 978.3 L1572.6 975.5 L1575.5 972.7 L1578.5 969.9 L1581.4 967.1 L1584.4 964.4 L1587.4 961.7 L1590.5 959.0 L1593.5 956.3 L1596.6 953.6 L1599.6 951.0 L1602.7 948.4 L1605.9 945.8 L1609.0 943.2 L1612.1 940.6 L1615.3 938.1 L1618.5 935.6 L1621.7 933.1 L1624.9 930.6 L1628.1 928.2 L1631.3 925.7 L1634.6 923.3 L1637.9 921.0 L1641.2 918.6 L1644.5 916.3 L1647.8 914.0 L1651.1 911.7 L1654.5 909.5 L1657.8 907.2 L1661.2 905.0 L1664.6 902.8 L1668.1 900.7 L1671.5 898.6 L1674.9 896.5 L1678.4 894.4 L1681.9 892.4 L1685.4 890.3 L1688.9 888.3 L1692.4 886.4 L1695.9 884.4 L1699.5 882.5 L1703.1 880.6 L1706.7 878.8 L1710.2 876.9 L1713.9 875.1 L1717.5 873.3 L1721.1 871.6 L1724.8 869.8 L1728.4 868.1 L1732.1 866.4 L1735.8 864.7 L1739.4 863.1 L1743.1 861.4 L1746.9 859.8 L1750.6 858.2 L1754.3 856.6 L1758.0 855.0 L1761.8 853.5 L1765.5 851.9 L1769.3 850.4 L1773.1 848.9 L1776.8 847.4 L1780.6 845.9 L1784.4 844.5 L1788.2 843.0 L1792.0 841.6 L1795.8 840.1 L1799.6 838.7 L1803.4 837.3 L1807.2 835.9 L1811.0 834.6 L1814.9 833.2 L1818.7 831.8 L1822.5 830.5 L1826.4 829.1 L1830.2 827.8 L1834.0 826.4 L1837.9 825.1 L1841.7 823.8 L1845.5 822.5 L1849.4 821.1 L1853.2 819.8 L1857.1 818.5 L1860.9 817.2 L1864.7 815.9 L1868.6 814.6 L1872.4 813.3 L1876.3 812.0 L1880.1 810.7 L1883.9 809.5 L1887.8 808.2 L1891.6 806.9 L1895.4 805.6 L1899.3 804.3 L1903.1 803.1 L1906.9 801.8 L1910.8 800.6 L1914.6 799.3 L1918.5 798.1 L1922.3 796.8 L1926.1 795.6 L1930.0 794.3 L1933.8 793.1 L1937.7 791.9 L1941.5 790.7 L1945.4 789.5 L1949.3 788.3 L1953.1 787.1 L1957.0 785.9 L1960.9 784.7 L1964.7 783.5 L1968.6 782.4 L1972.5 781.2 L1976.4 780.1 L1980.3 778.9 L1984.2 777.8 L1988.1 776.7 L1992.0 775.5" stroke="#6e2f64" stroke-width="4.0" fill="none" stroke-linecap="round" stroke-linejoin="round"/>
<path d="M1768.2 1103.3 L1770.0 1099.6 L1771.9 1095.9 L1773.8 1092.2 L1775.7 1088.6 L1777.8 1085.0 L1779.8 1081.4 L1781.9 1077.9 L1784.1 1074.4 L1786.3 1071.0 L1788.5 1067.5 L1790.8 1064.2 L1793.2 1060.8 L1795.5 1057.5 L1798.0 1054.2 L1800.4 1050.9 L1802.9 1047.7 L1805.5 1044.5 L1808.0 1041.4 L1810.7 1038.3 L1813.3 1035.2 L1816.0 1032.1 L1818.7 1029.0 L1821.5 1026.0 L1824.2 1023.1 L1827.1 1020.1 L1829.9 1017.2 L1832.8 1014.3 L1835.7 1011.4 L1838.6 1008.5 L1841.6 1005.7 L1844.6 1002.9 L1847.6 1000.1 L1850.6 997.4 L1853.7 994.7 L1856.7 991.9 L1859.8 989.3 L1863.0 986.6 L1866.1 984.0 L1869.3 981.3 L1872.4 978.7 L1875.6 976.2 L1878.8 973.6 L1882.1 971.1 L1885.3 968.5 L1888.5 966.0 L1891.8 963.6 L1895.1 961.1 L1898.4 958.6 L1901.7 956.2 L1905.0 953.8 L1908.3 951.4 L1911.6 949.0 L1915.0 946.6 L1918.3 944.3 L1921.7 941.9 L1925.0 939.6 L1928.4 937.3 L1931.8 935.0 L1935.2 932.7 L1938.6 930.4 L1942.0 928.2 L1945.4 925.9 L1948.8 923.7 L1952.3 921.5 L1955.7 919.3 L1959.2 917.1 L1962.7 915.0 L1966.2 913.0 L1969.7 911.0 L1973.3 909.2 L1977.0 907.4 L1980.7 905.7 L1984.4 904.2 L1988.2 902.7" stroke="#2a2d9c" stroke-width="4.0" fill="none" stroke-linecap="round" stroke-linejoin="round"/>
<path d="M1771.9 923.8 L1775.8 922.6 L1779.8 921.5 L1783.7 920.4 L1787.6 919.3 L1791.6 918.1 L1795.5 917.0 L1799.4 915.9 L1803.4 914.8 L1807.3 913.6 L1811.2 912.5 L1815.1 911.3 L1819.0 910.1 L1822.9 908.9 L1826.8 907.7 L1830.7 906.4 L1834.6 905.1 L1838.4 903.8 L1842.3 902.4 L1846.1 901.0 L1849.9 899.6 L1853.8 898.2 L1857.6 896.8 L1861.4 895.3 L1865.2 893.8 L1869.0 892.3 L1872.8 890.8 L1876.6 889.2 L1880.3 887.7 L1884.1 886.1 L1887.9 884.5 L1891.6 882.9 L1895.4 881.4 L1899.2 879.8 L1902.9 878.2 L1906.7 876.7 L1910.5 875.1 L1914.3 873.6 L1918.1 872.1 L1921.9 870.6 L1925.7 869.2 L1929.5 867.8 L1933.4 866.4 L1937.2 865.0 L1941.1 863.6 L1944.9 862.3 L1948.8 861.0 L1952.7 859.7 L1956.6 858.5 L1960.5 857.3 L1964.4 856.1 L1968.3 854.9 L1972.2 853.8 L1976.2 852.7 L1980.1 851.7 L1984.1 850.6 L1988.1 849.6 L1992.1 848.7" stroke="#2a2d9c" stroke-width="4.0" fill="none" stroke-linecap="round" stroke-linejoin="round"/>
<path d="M1671.0 933.5 L1675.1 933.4 L1679.1 933.2 L1683.2 933.0 L1687.3 932.7 L1691.3 932.5 L1695.4 932.3 L1699.5 932.1 L1703.5 931.8 L1707.6 931.6 L1711.6 931.3 L1715.7 931.1 L1719.8 930.8 L1723.8 930.5 L1727.9 930.2 L1731.9 930.0 L1736.0 929.7 L1740.1 929.4 L1744.1 929.1 L1748.2 928.8 L1752.2 928.4 L1756.3 928.1 L1760.3 927.8 L1764.4 927.5 L1768.5 927.1 L1772.5 926.8 L1776.6 926.4 L1780.6 926.1 L1784.7 925.7 L1788.7 925.4 L1792.8 925.0 L1796.8 924.6 L1800.9 924.3 L1804.9 923.9 L1809.0 923.5 L1813.0 923.1 L1817.1 922.7 L1821.1 922.3 L1825.2 921.9 L1829.2 921.5 L1833.3 921.1 L1837.3 920.7 L1841.4 920.3 L1845.4 919.9 L1849.5 919.4 L1853.5 919.0 L1857.6 918.6 L1861.6 918.2 L1865.7 917.7 L1869.7 917.3 L1873.8 916.9 L1877.8 916.4 L1881.9 916.0 L1885.9 915.5 L1890.0 915.1 L1894.0 914.6 L1898.0 914.2 L1902.1 913.7 L1906.1 913.3 L1910.2 912.8 L1914.2 912.4 L1918.3 911.9 L1922.3 911.5 L1926.4 911.0 L1930.4 910.6 L1934.5 910.1 L1938.5 909.6 L1942.5 909.2 L1946.6 908.7 L1950.6 908.2 L1954.7 907.8 L1958.7 907.3 L1962.8 906.9 L1966.8 906.4 L1970.8 905.9 L1974.9 905.5 L1978.9 905.0 L1983.0 904.5 L1987.0 904.1" stroke="#1010c0" stroke-width="4.6" fill="none" stroke-linecap="round" stroke-linejoin="round"/>
</g>
<path d="M291.5 649.6 V642.6 M291.5 1129.0 V1138.0 M316.8 649.6 V643.6 M316.8 1129.0 V1134.5 M342.2 649.6 V643.6 M342.2 1129.0 V1134.5 M367.5 649.6 V643.6 M367.5 1129.0 V1134.5 M392.8 649.6 V643.6 M392.8 1129.0 V1134.5 M418.1 649.6 V642.6 M418.1 1129.0 V1138.0 M443.5 649.6 V643.6 M443.5 1129.0 V1134.5 M468.8 649.6 V643.6 M468.8 1129.0 V1134.5 M494.1 649.6 V643.6 M494.1 1129.0 V1134.5 M519.5 649.6 V643.6 M519.5 1129.0 V1134.5 M544.8 649.6 V642.6 M544.8 1129.0 V1138.0 M570.1 649.6 V643.6 M570.1 1129.0 V1134.5 M595.5 649.6 V643.6 M595.5 1129.0 V1134.5 M620.8 649.6 V643.6 M620.8 1129.0 V1134.5 M646.1 649.6 V643.6 M646.1 1129.0 V1134.5 M671.5 649.6 V642.6 M671.5 1129.0 V1138.0 M696.8 649.6 V643.6 M696.8 1129.0 V1134.5 M722.1 649.6 V643.6 M722.1 1129.0 V1134.5 M747.4 649.6 V643.6 M747.4 1129.0 V1134.5 M772.8 649.6 V643.6 M772.8 1129.0 V1134.5 M798.1 649.6 V642.6 M798.1 1129.0 V1138.0 M823.4 649.6 V643.6 M823.4 1129.0 V1134.5 M848.8 649.6 V643.6 M848.8 1129.0 V1134.5 M874.1 649.6 V643.6 M874.1 1129.0 V1134.5 M899.4 649.6 V643.6 M899.4 1129.0 V1134.5 M924.8 649.6 V642.6 M924.8 1129.0 V1138.0 M950.1 649.6 V643.6 M950.1 1129.0 V1134.5 M975.4 649.6 V643.6 M975.4 1129.0 V1134.5 M1000.7 649.6 V643.6 M1000.7 1129.0 V1134.5 M1026.1 649.6 V643.6 M1026.1 1129.0 V1134.5 M1051.4 649.6 V642.6 M1051.4 1129.0 V1138.0 M1076.7 649.6 V643.6 M1076.7 1129.0 V1134.5 M1102.1 649.6 V643.6 M1102.1 1129.0 V1134.5 M1127.4 649.6 V643.6 M1127.4 1129.0 V1134.5 M1152.7 649.6 V643.6 M1152.7 1129.0 V1134.5 M1178.1 649.6 V642.6 M1178.1 1129.0 V1138.0 M1203.4 649.6 V643.6 M1203.4 1129.0 V1134.5 M1228.7 649.6 V643.6 M1228.7 1129.0 V1134.5 M1254.0 649.6 V643.6 M1254.0 1129.0 V1134.5 M1279.4 649.6 V643.6 M1279.4 1129.0 V1134.5 M1304.7 649.6 V642.6 M1304.7 1129.0 V1138.0 M1330.0 649.6 V643.6 M1330.0 1129.0 V1134.5 M1355.4 649.6 V643.6 M1355.4 1129.0 V1134.5 M1380.7 649.6 V643.6 M1380.7 1129.0 V1134.5 M1406.0 649.6 V643.6 M1406.0 1129.0 V1134.5 M1431.4 649.6 V642.6 M1431.4 1129.0 V1138.0 M1456.7 649.6 V643.6 M1456.7 1129.0 V1134.5 M1482.0 649.6 V643.6 M1482.0 1129.0 V1134.5 M1507.3 649.6 V643.6 M1507.3 1129.0 V1134.5 M1532.7 649.6 V643.6 M1532.7 1129.0 V1134.5 M1558.0 649.6 V642.6 M1558.0 1129.0 V1138.0 M1583.3 649.6 V643.6 M1583.3 1129.0 V1134.5 M1608.7 649.6 V643.6 M1608.7 1129.0 V1134.5 M1634.0 649.6 V643.6 M1634.0 1129.0 V1134.5 M1659.3 649.6 V643.6 M1659.3 1129.0 V1134.5 M1684.7 649.6 V642.6 M1684.7 1129.0 V1138.0 M1710.0 649.6 V643.6 M1710.0 1129.0 V1134.5 M1735.3 649.6 V643.6 M1735.3 1129.0 V1134.5 M1760.6 649.6 V643.6 M1760.6 1129.0 V1134.5 M1786.0 649.6 V643.6 M1786.0 1129.0 V1134.5 M1811.3 649.6 V642.6 M1811.3 1129.0 V1138.0 M1836.6 649.6 V643.6 M1836.6 1129.0 V1134.5 M1862.0 649.6 V643.6 M1862.0 1129.0 V1134.5 M1887.3 649.6 V643.6 M1887.3 1129.0 V1134.5 M1912.6 649.6 V643.6 M1912.6 1129.0 V1134.5 M1938.0 649.6 V642.6 M1938.0 1129.0 V1138.0 M1963.3 649.6 V643.6 M1963.3 1129.0 V1134.5 M1988.6 649.6 V643.6 M1988.6 1129.0 V1134.5 M291.5 1129.0 H281.5 M1992.5 1129.0 H2000.5 M291.5 1117.9 H281.5 M1992.5 1117.9 H2000.5 M291.5 1106.8 H281.5 M1992.5 1106.8 H2000.5 M291.5 1095.6 H281.5 M1992.5 1095.6 H2000.5 M291.5 1084.5 H281.5 M1992.5 1084.5 H2000.5 M291.5 1073.4 H281.5 M1992.5 1073.4 H2000.5 M291.5 1062.4 H281.5 M1992.5 1062.4 H2000.5 M291.5 1051.4 H281.5 M1992.5 1051.4 H2000.5 M291.5 1040.4 H281.5 M1992.5 1040.4 H2000.5 M291.5 1029.4 H281.5 M1992.5 1029.4 H2000.5 M291.5 1018.4 H281.5 M1992.5 1018.4 H2000.5 M291.5 1007.3 H281.5 M1992.5 1007.3 H2000.5 M291.5 996.3 H281.5 M1992.5 996.3 H2000.5 M291.5 985.3 H281.5 M1992.5 985.3 H2000.5 M291.5 974.3 H281.5 M1992.5 974.3 H2000.5 M291.5 963.3 H281.5 M1992.5 963.3 H2000.5 M291.5 952.4 H281.5 M1992.5 952.4 H2000.5 M291.5 941.4 H281.5 M1992.5 941.4 H2000.5 M291.5 930.5 H281.5 M1992.5 930.5 H2000.5 M291.5 919.5 H281.5 M1992.5 919.5 H2000.5 M291.5 908.6 H281.5 M1992.5 908.6 H2000.5 M291.5 897.7 H281.5 M1992.5 897.7 H2000.5 M291.5 886.8 H281.5 M1992.5 886.8 H2000.5 M291.5 876.0 H281.5 M1992.5 876.0 H2000.5 M291.5 865.1 H281.5 M1992.5 865.1 H2000.5 M291.5 854.2 H281.5 M1992.5 854.2 H2000.5 M291.5 843.3 H281.5 M1992.5 843.3 H2000.5 M291.5 832.4 H281.5 M1992.5 832.4 H2000.5 M291.5 821.6 H281.5 M1992.5 821.6 H2000.5 M291.5 810.7 H281.5 M1992.5 810.7 H2000.5 M291.5 799.8 H281.5 M1992.5 799.8 H2000.5 M291.5 789.1 H281.5 M1992.5 789.1 H2000.5 M291.5 778.3 H281.5 M1992.5 778.3 H2000.5 M291.5 767.6 H281.5 M1992.5 767.6 H2000.5 M291.5 756.9 H281.5 M1992.5 756.9 H2000.5 M291.5 746.2 H281.5 M1992.5 746.2 H2000.5 M291.5 735.4 H281.5 M1992.5 735.4 H2000.5 M291.5 724.7 H281.5 M1992.5 724.7 H2000.5 M291.5 714.0 H281.5 M1992.5 714.0 H2000.5 M291.5 703.2 H281.5 M1992.5 703.2 H2000.5 M291.5 692.5 H281.5 M1992.5 692.5 H2000.5 M291.5 681.8 H281.5 M1992.5 681.8 H2000.5 M291.5 671.1 H281.5 M1992.5 671.1 H2000.5 M291.5 660.3 H281.5 M1992.5 660.3 H2000.5" stroke="#505050" stroke-width="2.6" fill="none"/>
<rect x="291.5" y="649.6" width="1701.0" height="479.4" fill="none" stroke="#555" stroke-width="3.6"/>
<g font-family="'Liberation Serif', 'DejaVu Serif', serif" fill="#000" stroke="#fff">
<text transform="matrix(0.82826 0.00000 0.00000 0.85231 221.04 93.30)" font-size="100" stroke-width="0.60">4</text>
<text transform="matrix(0.91220 0.00000 0.00000 0.84242 223.84 218.76)" font-size="100" stroke-width="0.57">3</text>
<text transform="matrix(0.93500 0.00000 0.00000 0.85385 224.66 338.70)" font-size="100" stroke-width="0.56">2</text>
<text transform="matrix(0.87143 0.00000 0.00000 0.84242 221.16 451.50)" font-size="100" stroke-width="0.58">1</text>
<text transform="matrix(0.82857 0.00000 0.00000 0.82239 226.19 577.96)" font-size="100" stroke-width="0.61">0</text>
<text transform="matrix(0.81522 0.00000 0.00000 0.84462 223.67 691.60)" font-size="100" stroke-width="0.60">4</text>
<text transform="matrix(0.89512 0.00000 0.00000 0.86364 225.62 818.04)" font-size="100" stroke-width="0.57">3</text>
<text transform="matrix(0.94750 0.00000 0.00000 0.86154 226.31 938.10)" font-size="100" stroke-width="0.55">2</text>
<text transform="matrix(0.83714 0.00000 0.00000 0.83182 223.67 1049.80)" font-size="100" stroke-width="0.60">1</text>
<text transform="matrix(0.82143 0.00000 0.00000 0.83582 228.71 1177.13)" font-size="100" stroke-width="0.60">0</text>
<text transform="matrix(0.79524 0.00000 0.00000 0.81343 281.82 1207.67)" font-size="100" stroke-width="0.62">0</text>
<text transform="matrix(0.79143 0.00000 0.00000 0.83333 530.48 1209.80)" font-size="100" stroke-width="0.62">1</text>
<text transform="matrix(0.86000 0.00000 0.00000 0.84308 781.96 1209.60)" font-size="100" stroke-width="0.59">2</text>
<text transform="matrix(0.86829 0.00000 0.00000 0.83939 1030.76 1208.96)" font-size="100" stroke-width="0.59">3</text>
<text transform="matrix(0.80435 0.00000 0.00000 0.85231 1283.49 1209.80)" font-size="100" stroke-width="0.60">4</text>
<text transform="matrix(0.88750 0.00000 0.00000 0.83939 1530.58 1208.96)" font-size="100" stroke-width="0.58">5</text>
<text transform="matrix(0.80930 0.00000 0.00000 0.82687 1784.86 1208.15)" font-size="100" stroke-width="0.61">6</text>
<text transform="matrix(0.87419 0.00000 0.00000 0.85692 891.98 1293.50)" font-size="100" stroke-width="0.58">Frequency [MHz]</text>
<text transform="matrix(0.00000 -0.86447 0.86769 0.00000 82.60 546.19)" font-size="100" stroke-width="0.58">Phase velocity</text>
<text transform="matrix(0.00000 -0.89309 0.74681 0.00000 167.70 383.99)" font-size="100" stroke-width="0.61">m/ms</text>
<text transform="matrix(0.00000 -0.87324 0.82090 0.00000 75.06 1172.49)" font-size="100" stroke-width="0.59">Group velocity</text>
<text transform="matrix(0.00000 -0.88894 0.74894 0.00000 170.20 984.58)" font-size="100" stroke-width="0.61">m/ms</text>
<text transform="matrix(0.83077 0.00000 0.00000 0.79853 424.07 1429.90)" font-size="100" stroke-width="0.61">A0</text>
<text transform="matrix(0.80105 0.00000 0.00000 0.81940 617.49 1429.46)" font-size="100" stroke-width="0.62">S0</text>
<text transform="matrix(0.80609 0.00000 0.00000 0.82576 815.59 1431.10)" font-size="100" stroke-width="0.61">A1</text>
<text transform="matrix(0.77826 0.00000 0.00000 0.82059 1028.55 1430.16)" font-size="100" stroke-width="0.63">S1</text>
<text transform="matrix(0.83793 0.00000 0.00000 0.84242 1245.26 1431.80)" font-size="100" stroke-width="0.60">A2</text>
<text transform="matrix(0.82258 0.00000 0.00000 0.83284 1457.14 1430.13)" font-size="100" stroke-width="0.60">S2</text>
<text transform="matrix(0.83077 0.00000 0.00000 0.82985 1655.37 1430.97)" font-size="100" stroke-width="0.60">A3</text>
<text transform="matrix(0.78105 0.00000 0.00000 0.81642 1868.23 1429.47)" font-size="100" stroke-width="0.63">S3</text>
</g>
<path d="M352.2 1411.5 L364.2 1401.5 L376.7 1421.0 L389.7 1408.0 L399.2 1411.0" stroke="#2f7a35" stroke-width="6" fill="none" stroke-linecap="round" stroke-linejoin="round" filter="url(#bl2)"/>
<path d="M557.5 1411.5 L569.5 1401.5 L582.0 1421.0 L595.0 1408.0 L604.5 1411.0" stroke="#b8343c" stroke-width="6" fill="none" stroke-linecap="round" stroke-linejoin="round" filter="url(#bl2)"/>
<path d="M764.1 1411.5 L776.1 1401.5 L788.6 1421.0 L801.6 1408.0 L811.1 1411.0" stroke="#7f7b2c" stroke-width="6" fill="none" stroke-linecap="round" stroke-linejoin="round" filter="url(#bl2)"/>
<path d="M969.0 1411.5 L981.0 1401.5 L993.5 1421.0 L1006.5 1408.0 L1016.0 1411.0" stroke="#45d4dc" stroke-width="6" fill="none" stroke-linecap="round" stroke-linejoin="round" filter="url(#bl2)"/>
<path d="M1174.5 1411.5 L1186.5 1401.5 L1199.0 1421.0 L1212.0 1408.0 L1221.5 1411.0" stroke="#bb45c8" stroke-width="6" fill="none" stroke-linecap="round" stroke-linejoin="round" filter="url(#bl2)"/>
<path d="M1380.0 1411.5 L1392.0 1401.5 L1404.5 1421.0 L1417.5 1408.0 L1427.0 1411.0" stroke="#4ccb4c" stroke-width="6" fill="none" stroke-linecap="round" stroke-linejoin="round" filter="url(#bl2)"/>
<path d="M1586.5 1411.5 L1598.5 1401.5 L1611.0 1421.0 L1624.0 1408.0 L1633.5 1411.0" stroke="#2a2d9c" stroke-width="6" fill="none" stroke-linecap="round" stroke-linejoin="round" filter="url(#bl2)"/>
<path d="M1791.3 1411.5 L1803.3 1401.5 L1815.8 1421.0 L1828.8 1408.0 L1838.3 1411.0" stroke="#6e2f64" stroke-width="6" fill="none" stroke-linecap="round" stroke-linejoin="round" filter="url(#bl2)"/>
</g>
</svg>
</body></html>
